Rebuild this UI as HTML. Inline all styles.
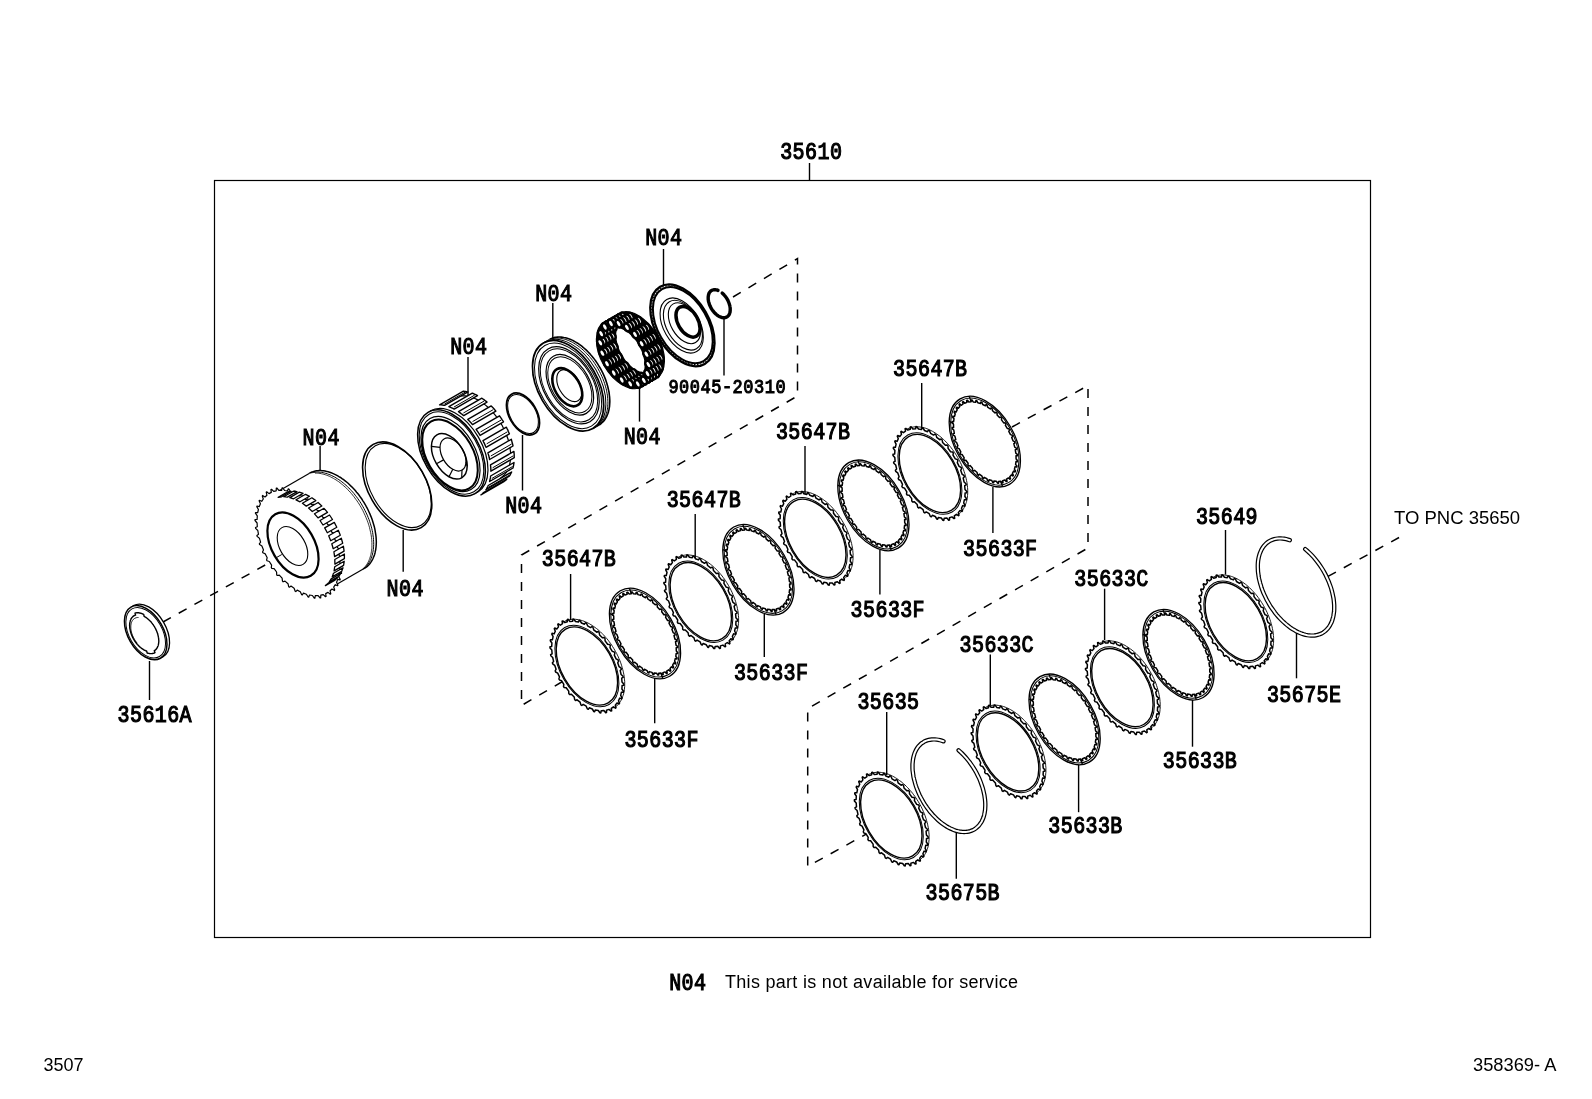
<!DOCTYPE html>
<html><head><meta charset="utf-8"><style>html,body{margin:0;padding:0;background:#fff;overflow:hidden}svg{display:block;filter:grayscale(1)}</style></head>
<body><svg width="1592" height="1099" viewBox="0 0 1592 1099">
<rect width="1592" height="1099" fill="#fff"/>
<rect x="214.5" y="180.5" width="1156" height="757" fill="none" stroke="#000" stroke-width="1.2"/>
<line x1="809.5" y1="163" x2="809.5" y2="180.5" stroke="#000" stroke-width="1.4" />
<g transform="translate(781.0,159.3) scale(1,1.2)"><text x="5.2 17.6 30.1 42.5 54.9" y="0" text-anchor="middle" font-family="Liberation Mono" font-weight="normal" font-size="20" fill="#000" stroke="#000" stroke-width="1.0" >35610</text></g>
<g transform="translate(646.0,245.3) scale(1,1.2)"><text x="5.2 17.6 30.1" y="0" text-anchor="middle" font-family="Liberation Mono" font-weight="normal" font-size="20" fill="#000" stroke="#000" stroke-width="1.0" >N04</text></g>
<line x1="663.5" y1="249" x2="663.5" y2="286" stroke="#000" stroke-width="1.4" />
<g transform="translate(536.0,300.9) scale(1,1.2)"><text x="5.2 17.6 30.1" y="0" text-anchor="middle" font-family="Liberation Mono" font-weight="normal" font-size="20" fill="#000" stroke="#000" stroke-width="1.0" >N04</text></g>
<line x1="552.8" y1="303" x2="552.8" y2="340" stroke="#000" stroke-width="1.4" />
<g transform="translate(451.0,353.7) scale(1,1.2)"><text x="5.2 17.6 30.1" y="0" text-anchor="middle" font-family="Liberation Mono" font-weight="normal" font-size="20" fill="#000" stroke="#000" stroke-width="1.0" >N04</text></g>
<line x1="468" y1="357" x2="468" y2="395" stroke="#000" stroke-width="1.4" />
<g transform="translate(303.4,444.5) scale(1,1.2)"><text x="5.2 17.6 30.1" y="0" text-anchor="middle" font-family="Liberation Mono" font-weight="normal" font-size="20" fill="#000" stroke="#000" stroke-width="1.0" >N04</text></g>
<line x1="320.1" y1="446" x2="320.1" y2="470" stroke="#000" stroke-width="1.4" />
<g transform="translate(624.5,444.1) scale(1,1.2)"><text x="5.2 17.6 30.1" y="0" text-anchor="middle" font-family="Liberation Mono" font-weight="normal" font-size="20" fill="#000" stroke="#000" stroke-width="1.0" >N04</text></g>
<line x1="639.5" y1="388" x2="639.5" y2="421.6" stroke="#000" stroke-width="1.4" />
<g transform="translate(506.0,513.3) scale(1,1.2)"><text x="5.2 17.6 30.1" y="0" text-anchor="middle" font-family="Liberation Mono" font-weight="normal" font-size="20" fill="#000" stroke="#000" stroke-width="1.0" >N04</text></g>
<line x1="522.5" y1="435" x2="522.5" y2="490.5" stroke="#000" stroke-width="1.4" />
<g transform="translate(387.3,595.9) scale(1,1.2)"><text x="5.2 17.6 30.1" y="0" text-anchor="middle" font-family="Liberation Mono" font-weight="normal" font-size="20" fill="#000" stroke="#000" stroke-width="1.0" >N04</text></g>
<line x1="403.2" y1="530" x2="403.2" y2="571.8" stroke="#000" stroke-width="1.4" />
<g transform="translate(118.3,721.6) scale(1,1.2)"><text x="5.2 17.6 30.1 42.5 54.9 67.2" y="0" text-anchor="middle" font-family="Liberation Mono" font-weight="normal" font-size="20" fill="#000" stroke="#000" stroke-width="1.0" >35616A</text></g>
<line x1="149.5" y1="661" x2="149.5" y2="700" stroke="#000" stroke-width="1.4" />
<g transform="translate(669.0,392.7) scale(1,1.15)"><text x="4.5 15.2 25.9 36.6 47.3 58.0 68.7 79.4 90.1 100.8 111.5" y="0" text-anchor="middle" font-family="Liberation Mono" font-weight="normal" font-size="17" fill="#000" stroke="#000" stroke-width="0.9" >90045-20310</text></g>
<line x1="724" y1="318.5" x2="724" y2="375.6" stroke="#000" stroke-width="1.4" />
<g transform="translate(893.9,376.1) scale(1,1.2)"><text x="5.2 17.6 30.1 42.5 54.9 67.2" y="0" text-anchor="middle" font-family="Liberation Mono" font-weight="normal" font-size="20" fill="#000" stroke="#000" stroke-width="1.0" >35647B</text></g>
<line x1="921.7" y1="383" x2="921.7" y2="430" stroke="#000" stroke-width="1.4" />
<g transform="translate(776.7,438.8) scale(1,1.2)"><text x="5.2 17.6 30.1 42.5 54.9 67.2" y="0" text-anchor="middle" font-family="Liberation Mono" font-weight="normal" font-size="20" fill="#000" stroke="#000" stroke-width="1.0" >35647B</text></g>
<line x1="805" y1="446" x2="805" y2="494" stroke="#000" stroke-width="1.4" />
<g transform="translate(667.5,507.0) scale(1,1.2)"><text x="5.2 17.6 30.1 42.5 54.9 67.2" y="0" text-anchor="middle" font-family="Liberation Mono" font-weight="normal" font-size="20" fill="#000" stroke="#000" stroke-width="1.0" >35647B</text></g>
<line x1="695.2" y1="514" x2="695.2" y2="558" stroke="#000" stroke-width="1.4" />
<g transform="translate(542.6,566.3) scale(1,1.2)"><text x="5.2 17.6 30.1 42.5 54.9 67.2" y="0" text-anchor="middle" font-family="Liberation Mono" font-weight="normal" font-size="20" fill="#000" stroke="#000" stroke-width="1.0" >35647B</text></g>
<line x1="570.6" y1="574" x2="570.6" y2="620" stroke="#000" stroke-width="1.4" />
<g transform="translate(963.9,555.5) scale(1,1.2)"><text x="5.2 17.6 30.1 42.5 54.9 67.2" y="0" text-anchor="middle" font-family="Liberation Mono" font-weight="normal" font-size="20" fill="#000" stroke="#000" stroke-width="1.0" >35633F</text></g>
<line x1="992.9" y1="487" x2="992.9" y2="533" stroke="#000" stroke-width="1.4" />
<g transform="translate(851.4,616.9) scale(1,1.2)"><text x="5.2 17.6 30.1 42.5 54.9 67.2" y="0" text-anchor="middle" font-family="Liberation Mono" font-weight="normal" font-size="20" fill="#000" stroke="#000" stroke-width="1.0" >35633F</text></g>
<line x1="879.9" y1="550" x2="879.9" y2="594.5" stroke="#000" stroke-width="1.4" />
<g transform="translate(734.7,679.7) scale(1,1.2)"><text x="5.2 17.6 30.1 42.5 54.9 67.2" y="0" text-anchor="middle" font-family="Liberation Mono" font-weight="normal" font-size="20" fill="#000" stroke="#000" stroke-width="1.0" >35633F</text></g>
<line x1="764.3" y1="614" x2="764.3" y2="657" stroke="#000" stroke-width="1.4" />
<g transform="translate(625.2,747.3) scale(1,1.2)"><text x="5.2 17.6 30.1 42.5 54.9 67.2" y="0" text-anchor="middle" font-family="Liberation Mono" font-weight="normal" font-size="20" fill="#000" stroke="#000" stroke-width="1.0" >35633F</text></g>
<line x1="654.7" y1="678" x2="654.7" y2="723.3" stroke="#000" stroke-width="1.4" />
<g transform="translate(1075.1,585.6) scale(1,1.2)"><text x="5.2 17.6 30.1 42.5 54.9 67.2" y="0" text-anchor="middle" font-family="Liberation Mono" font-weight="normal" font-size="20" fill="#000" stroke="#000" stroke-width="1.0" >35633C</text></g>
<line x1="1104.6" y1="588.7" x2="1104.6" y2="640" stroke="#000" stroke-width="1.4" />
<g transform="translate(960.3,652.1) scale(1,1.2)"><text x="5.2 17.6 30.1 42.5 54.9 67.2" y="0" text-anchor="middle" font-family="Liberation Mono" font-weight="normal" font-size="20" fill="#000" stroke="#000" stroke-width="1.0" >35633C</text></g>
<line x1="990.3" y1="654.4" x2="990.3" y2="705.5" stroke="#000" stroke-width="1.4" />
<g transform="translate(858.2,708.8) scale(1,1.2)"><text x="5.2 17.6 30.1 42.5 54.9" y="0" text-anchor="middle" font-family="Liberation Mono" font-weight="normal" font-size="20" fill="#000" stroke="#000" stroke-width="1.0" >35635</text></g>
<line x1="886.7" y1="712" x2="886.7" y2="775" stroke="#000" stroke-width="1.4" />
<g transform="translate(1196.7,523.6) scale(1,1.2)"><text x="5.2 17.6 30.1 42.5 54.9" y="0" text-anchor="middle" font-family="Liberation Mono" font-weight="normal" font-size="20" fill="#000" stroke="#000" stroke-width="1.0" >35649</text></g>
<line x1="1225.5" y1="530" x2="1225.5" y2="574.6" stroke="#000" stroke-width="1.4" />
<g transform="translate(1267.7,701.9) scale(1,1.2)"><text x="5.2 17.6 30.1 42.5 54.9 67.2" y="0" text-anchor="middle" font-family="Liberation Mono" font-weight="normal" font-size="20" fill="#000" stroke="#000" stroke-width="1.0" >35675E</text></g>
<line x1="1296.5" y1="632.8" x2="1296.5" y2="678.3" stroke="#000" stroke-width="1.4" />
<g transform="translate(1163.6,768.3) scale(1,1.2)"><text x="5.2 17.6 30.1 42.5 54.9 67.2" y="0" text-anchor="middle" font-family="Liberation Mono" font-weight="normal" font-size="20" fill="#000" stroke="#000" stroke-width="1.0" >35633B</text></g>
<line x1="1192.5" y1="700" x2="1192.5" y2="746.7" stroke="#000" stroke-width="1.4" />
<g transform="translate(1049.1,833.2) scale(1,1.2)"><text x="5.2 17.6 30.1 42.5 54.9 67.2" y="0" text-anchor="middle" font-family="Liberation Mono" font-weight="normal" font-size="20" fill="#000" stroke="#000" stroke-width="1.0" >35633B</text></g>
<line x1="1078.6" y1="765" x2="1078.6" y2="812.2" stroke="#000" stroke-width="1.4" />
<g transform="translate(926.3,899.7) scale(1,1.2)"><text x="5.2 17.6 30.1 42.5 54.9 67.2" y="0" text-anchor="middle" font-family="Liberation Mono" font-weight="normal" font-size="20" fill="#000" stroke="#000" stroke-width="1.0" >35675B</text></g>
<line x1="956.3" y1="832.4" x2="956.3" y2="878.8" stroke="#000" stroke-width="1.4" />
<text x="1394" y="523.6" font-family="Liberation Sans" font-size="18.5" fill="#000" >TO PNC 35650</text>
<g transform="translate(670.0,990.1) scale(1,1.2)"><text x="5.2 17.6 30.1" y="0" text-anchor="middle" font-family="Liberation Mono" font-weight="normal" font-size="20" fill="#000" stroke="#000" stroke-width="1.0" >N04</text></g>
<text x="725" y="988.1" font-family="Liberation Sans" font-size="18" fill="#000" textLength="293" lengthAdjust="spacing">This part is not available for service</text>
<text x="43.5" y="1070.8" font-family="Liberation Sans" font-size="18" fill="#000" >3507</text>
<text x="1473" y="1071" font-family="Liberation Sans" font-size="18.3" fill="#000" >358369- A</text>
<path d="M163,622 L267,564" fill="none" stroke="#000" stroke-width="1.5" stroke-dasharray="9,9" />
<path d="M733,297 L797.5,258.6 L797.5,396 L521.5,555 L521.5,705.5 L589,666" fill="none" stroke="#000" stroke-width="1.5" stroke-dasharray="9,9" />
<path d="M1012,427 L1088,385.6 L1088,548 L807.7,708.6 L807.7,866.4 L881,826" fill="none" stroke="#000" stroke-width="1.5" stroke-dasharray="9,9" />
<path d="M1328,576.4 L1400,537" fill="none" stroke="#000" stroke-width="1.5" stroke-dasharray="9,9" />
<path d="M563.9,621.8 L564.9,621.2 L566.0,620.7 L567.1,620.3 L568.3,620.0 L569.4,619.7 L570.6,619.5 L571.9,619.3 L573.1,619.3 L574.4,619.3 L575.7,619.3 L577.0,619.5 L578.4,619.7 L579.7,620.0 L581.1,620.3 L582.5,620.7 L583.9,621.2 L585.3,621.8 L586.7,622.4 L588.1,623.1 L589.5,623.8 L590.9,624.7 L592.3,625.5 L593.7,626.5 L595.1,627.5 L596.5,628.5 L597.9,629.6 L599.2,630.8 L600.6,632.0 L601.9,633.3 L603.2,634.6 L604.5,636.0 L605.7,637.4 L607.0,638.8 L608.2,640.3 L609.3,641.8 L610.5,643.4 L611.6,645.0 L612.6,646.6 L613.7,648.3 L614.7,650.0 L615.6,651.7 L616.6,653.4 L617.4,655.1 L618.3,656.9 L619.0,658.7 L619.8,660.4 L620.5,662.2 L621.1,664.0 L621.7,665.8 L622.2,667.6 L622.7,669.4 L623.2,671.2 L623.5,672.9 L623.9,674.7 L624.2,676.4 L624.4,678.2 L624.5,679.9 L624.7,681.5 L624.7,683.2 L624.7,684.8 L624.7,686.4 L624.5,688.0 L624.4,689.5 L624.2,691.0 L623.9,692.5 L623.6,693.9 L623.2,695.2 L622.7,696.5 L622.3,697.8 L621.7,699.0 L621.1,700.2 L620.5,701.3 L619.8,702.4 L619.1,703.3 L618.3,704.3 L617.4,705.2 L616.6,706.0 L615.7,706.7 L614.7,707.4 L613.7,708.0" fill="none" stroke="#000" stroke-width="0.9" />
<path d="M611.3,708.3 L611.3,708.3 L611.7,710.8 L611.0,711.1 L609.0,709.4 L606.5,710.2 L606.5,710.2 L606.5,712.5 L605.7,712.7 L603.9,710.6 L601.2,710.7 L601.2,710.7 L600.8,712.9 L599.9,712.8 L598.3,710.5 L595.4,709.9 L595.4,709.9 L594.6,711.8 L593.8,711.5 L592.3,709.0 L589.3,707.8 L589.3,707.8 L588.3,709.3 L587.3,708.8 L586.2,706.2 L583.2,704.4 L583.2,704.4 L581.8,705.5 L580.9,704.9 L580.1,702.2 L577.1,699.8 L577.1,699.8 L575.6,700.5 L574.7,699.7 L574.2,697.1 L571.4,694.2 L571.4,694.2 L569.6,694.4 L568.8,693.5 L568.7,691.1 L566.2,687.8 L566.2,687.8 L564.2,687.5 L563.5,686.5 L563.8,684.3 L561.5,680.6 L561.5,680.6 L559.5,680.0 L558.9,678.9 L559.5,676.9 L557.7,673.1 L557.7,673.1 L555.6,672.0 L555.2,670.8 L556.1,669.2 L554.7,665.3 L554.7,665.3 L552.7,663.8 L552.4,662.7 L553.6,661.4 L552.7,657.5 L552.7,657.5 L550.8,655.7 L550.6,654.6 L552.1,653.8 L551.8,650.0 L551.8,650.0 L550.0,647.9 L550.0,646.8 L551.7,646.5 L551.9,643.0 L551.9,643.0 L550.3,640.7 L550.5,639.7 L552.4,639.8 L553.1,636.7 L553.1,636.7 L551.8,634.2 L552.1,633.3 L554.1,633.9 L555.3,631.3 L555.3,631.3 L554.3,628.7 L554.7,628.0 L556.8,629.0 L558.5,626.9 L558.5,626.9 L557.8,624.3 L558.3,623.8 L560.4,625.2 L562.5,623.7 L562.5,623.7 L562.1,621.2 L562.8,620.9 L564.8,622.6 L567.3,621.8 L567.3,621.8 L567.3,619.5 L568.1,619.3 L569.9,621.4 L572.6,621.3 L572.6,621.3 L573.0,619.1 L573.9,619.2 L575.5,621.5 L578.4,622.1 L578.4,622.1 L579.2,620.2 L580.0,620.5 L581.5,623.0 L584.5,624.2 L584.5,624.2 L585.5,622.7 L586.5,623.2 L587.6,625.8 L590.6,627.6 L590.6,627.6 L592.0,626.5 L592.9,627.1 L593.7,629.8 L596.7,632.2 L596.7,632.2 L598.2,631.5 L599.1,632.3 L599.6,634.9 L602.4,637.8 L602.4,637.8 L604.2,637.6 L605.0,638.5 L605.1,640.9 L607.6,644.2 L607.6,644.2 L609.6,644.5 L610.3,645.5 L610.0,647.7 L612.3,651.4 L612.3,651.4 L614.3,652.0 L614.9,653.1 L614.3,655.1 L616.1,658.9 L616.1,658.9 L618.2,660.0 L618.6,661.2 L617.7,662.8 L619.1,666.7 L619.1,666.7 L621.1,668.2 L621.4,669.3 L620.2,670.6 L621.1,674.5 L621.1,674.5 L623.0,676.3 L623.2,677.4 L621.7,678.2 L622.0,682.0 L622.0,682.0 L623.8,684.1 L623.8,685.2 L622.1,685.5 L621.9,689.0 L621.9,689.0 L623.5,691.3 L623.3,692.3 L621.4,692.2 L620.7,695.3 L620.7,695.3 L622.0,697.8 L621.7,698.7 L619.7,698.1 L618.5,700.7 L618.5,700.7 L619.5,703.3 L619.1,704.0 L617.0,703.0 L615.3,705.1 L615.3,705.1 L616.0,707.7 L615.5,708.2 L613.4,706.8 L611.3,708.3 L611.3,708.3 Z" fill="#fff" stroke="#000" stroke-width="1.5" stroke-linejoin="round" />
<ellipse cx="586.90" cy="666.00" rx="44.40" ry="26.64" transform="rotate(60.0 586.90 666.00)" fill="none" stroke="#000" stroke-width="1.0" />
<ellipse cx="586.90" cy="666.00" rx="42.60" ry="25.56" transform="rotate(60.0 586.90 666.00)" fill="none" stroke="#000" stroke-width="1.4" />
<ellipse cx="645.00" cy="633.50" rx="49.40" ry="29.64" transform="rotate(60.0 645.00 633.50)" fill="none" stroke="#000" stroke-width="1.3" />
<ellipse cx="645.00" cy="633.50" rx="47.40" ry="28.44" transform="rotate(60.0 645.00 633.50)" fill="none" stroke="#000" stroke-width="1.0" />
<path d="M666.7,671.1 L666.7,671.1 L667.3,673.1 L666.4,673.5 L665.1,671.9 L662.9,672.7 L662.9,672.7 L663.2,674.6 L662.3,674.8 L661.0,673.1 L658.7,673.3 L658.7,673.3 L658.7,675.1 L657.8,675.1 L656.6,673.2 L654.1,672.9 L654.1,672.9 L653.9,674.6 L652.9,674.4 L652.0,672.4 L649.3,671.6 L649.3,671.6 L648.9,673.1 L647.8,672.6 L647.1,670.6 L644.4,669.3 L644.4,669.3 L643.8,670.6 L642.7,669.9 L642.2,668.0 L639.5,666.1 L639.5,666.1 L638.7,667.2 L637.6,666.3 L637.3,664.4 L634.8,662.2 L634.8,662.2 L633.7,662.9 L632.7,662.0 L632.7,660.1 L630.3,657.5 L630.3,657.5 L629.0,658.0 L628.1,656.9 L628.3,655.2 L626.1,652.2 L626.1,652.2 L624.8,652.4 L623.9,651.2 L624.4,649.7 L622.4,646.5 L622.4,646.5 L621.0,646.4 L620.3,645.1 L621.0,643.8 L619.3,640.5 L619.3,640.5 L617.8,640.0 L617.2,638.7 L618.1,637.7 L616.8,634.3 L616.8,634.3 L615.3,633.5 L614.8,632.1 L616.0,631.5 L615.1,628.0 L615.1,628.0 L613.5,627.0 L613.2,625.7 L614.5,625.3 L614.0,621.9 L614.0,621.9 L612.5,620.7 L612.4,619.4 L613.8,619.3 L613.7,616.1 L613.7,616.1 L612.3,614.6 L612.3,613.4 L613.8,613.6 L614.2,610.7 L614.2,610.7 L612.9,609.1 L613.1,608.0 L614.7,608.5 L615.4,605.9 L615.4,605.9 L614.3,604.1 L614.7,603.1 L616.2,604.0 L617.4,601.8 L617.4,601.8 L616.4,599.8 L617.0,599.1 L618.5,600.2 L620.0,598.4 L620.0,598.4 L619.3,596.4 L619.9,595.8 L621.4,597.2 L623.3,595.9 L623.3,595.9 L622.7,593.9 L623.6,593.5 L624.9,595.1 L627.1,594.3 L627.1,594.3 L626.8,592.4 L627.7,592.2 L629.0,593.9 L631.3,593.7 L631.3,593.7 L631.3,591.9 L632.2,591.9 L633.4,593.8 L635.9,594.1 L635.9,594.1 L636.1,592.4 L637.1,592.6 L638.0,594.6 L640.7,595.4 L640.7,595.4 L641.1,593.9 L642.2,594.4 L642.9,596.4 L645.6,597.7 L645.6,597.7 L646.2,596.4 L647.3,597.1 L647.8,599.0 L650.5,600.9 L650.5,600.9 L651.3,599.8 L652.4,600.7 L652.7,602.6 L655.2,604.8 L655.2,604.8 L656.3,604.1 L657.3,605.0 L657.3,606.9 L659.7,609.5 L659.7,609.5 L661.0,609.0 L661.9,610.1 L661.7,611.8 L663.9,614.8 L663.9,614.8 L665.2,614.6 L666.1,615.8 L665.6,617.3 L667.6,620.5 L667.6,620.5 L669.0,620.6 L669.7,621.9 L669.0,623.2 L670.7,626.5 L670.7,626.5 L672.2,627.0 L672.8,628.3 L671.9,629.3 L673.2,632.7 L673.2,632.7 L674.7,633.5 L675.2,634.9 L674.0,635.5 L674.9,639.0 L674.9,639.0 L676.5,640.0 L676.8,641.3 L675.5,641.7 L676.0,645.1 L676.0,645.1 L677.5,646.3 L677.6,647.6 L676.2,647.7 L676.3,650.9 L676.3,650.9 L677.7,652.4 L677.7,653.6 L676.2,653.4 L675.8,656.3 L675.8,656.3 L677.1,657.9 L676.9,659.0 L675.3,658.5 L674.6,661.1 L674.6,661.1 L675.7,662.9 L675.3,663.9 L673.8,663.0 L672.6,665.2 L672.6,665.2 L673.6,667.2 L673.0,667.9 L671.5,666.8 L670.0,668.6 L670.0,668.6 L670.7,670.6 L670.1,671.2 L668.6,669.8 L666.7,671.1 L666.7,671.1 Z" fill="none" stroke="#000" stroke-width="1.5" stroke-linejoin="round" />
<line x1="631.3" y1="593.7" x2="629.4" y2="588.2" stroke="#000" stroke-width="1.3" />
<line x1="613.7" y1="615.6" x2="609.4" y2="613.2" stroke="#000" stroke-width="1.3" />
<line x1="660.7" y1="673.1" x2="662.9" y2="678.6" stroke="#000" stroke-width="1.3" />
<path d="M677.8,557.5 L678.8,556.9 L679.9,556.4 L681.0,556.0 L682.2,555.7 L683.3,555.4 L684.5,555.2 L685.8,555.0 L687.0,555.0 L688.3,555.0 L689.6,555.0 L690.9,555.2 L692.3,555.4 L693.6,555.7 L695.0,556.0 L696.4,556.4 L697.8,556.9 L699.2,557.5 L700.6,558.1 L702.0,558.8 L703.4,559.5 L704.8,560.4 L706.2,561.2 L707.6,562.2 L709.0,563.2 L710.4,564.2 L711.8,565.3 L713.1,566.5 L714.5,567.7 L715.8,569.0 L717.1,570.3 L718.4,571.7 L719.6,573.1 L720.9,574.5 L722.1,576.0 L723.2,577.5 L724.4,579.1 L725.5,580.7 L726.5,582.3 L727.6,584.0 L728.6,585.7 L729.5,587.4 L730.5,589.1 L731.3,590.8 L732.2,592.6 L732.9,594.4 L733.7,596.1 L734.4,597.9 L735.0,599.7 L735.6,601.5 L736.1,603.3 L736.6,605.1 L737.1,606.9 L737.4,608.6 L737.8,610.4 L738.1,612.1 L738.3,613.9 L738.4,615.6 L738.6,617.2 L738.6,618.9 L738.6,620.5 L738.6,622.1 L738.4,623.7 L738.3,625.2 L738.1,626.7 L737.8,628.2 L737.5,629.6 L737.1,630.9 L736.6,632.2 L736.2,633.5 L735.6,634.7 L735.0,635.9 L734.4,637.0 L733.7,638.1 L733.0,639.0 L732.2,640.0 L731.3,640.9 L730.5,641.7 L729.6,642.4 L728.6,643.1 L727.6,643.7" fill="none" stroke="#000" stroke-width="0.9" />
<path d="M725.2,644.0 L725.2,644.0 L725.6,646.5 L724.9,646.8 L722.9,645.1 L720.4,645.9 L720.4,645.9 L720.4,648.2 L719.6,648.4 L717.8,646.3 L715.1,646.4 L715.1,646.4 L714.7,648.6 L713.8,648.5 L712.2,646.2 L709.3,645.6 L709.3,645.6 L708.5,647.5 L707.7,647.2 L706.2,644.7 L703.2,643.5 L703.2,643.5 L702.2,645.0 L701.2,644.5 L700.1,641.9 L697.1,640.1 L697.1,640.1 L695.7,641.2 L694.8,640.6 L694.0,637.9 L691.0,635.5 L691.0,635.5 L689.5,636.2 L688.6,635.4 L688.1,632.8 L685.3,629.9 L685.3,629.9 L683.5,630.1 L682.7,629.2 L682.6,626.8 L680.1,623.5 L680.1,623.5 L678.1,623.2 L677.4,622.2 L677.7,620.0 L675.4,616.3 L675.4,616.3 L673.4,615.7 L672.8,614.6 L673.4,612.6 L671.6,608.8 L671.6,608.8 L669.5,607.7 L669.1,606.5 L670.0,604.9 L668.6,601.0 L668.6,601.0 L666.6,599.5 L666.3,598.4 L667.5,597.1 L666.6,593.2 L666.6,593.2 L664.7,591.4 L664.5,590.3 L666.0,589.5 L665.7,585.7 L665.7,585.7 L663.9,583.6 L663.9,582.5 L665.6,582.2 L665.8,578.7 L665.8,578.7 L664.2,576.4 L664.4,575.4 L666.3,575.5 L667.0,572.4 L667.0,572.4 L665.7,569.9 L666.0,569.0 L668.0,569.6 L669.2,567.0 L669.2,567.0 L668.2,564.4 L668.6,563.7 L670.7,564.7 L672.4,562.6 L672.4,562.6 L671.7,560.0 L672.2,559.5 L674.3,560.9 L676.4,559.4 L676.4,559.4 L676.0,556.9 L676.7,556.6 L678.7,558.3 L681.2,557.5 L681.2,557.5 L681.2,555.2 L682.0,555.0 L683.8,557.1 L686.5,557.0 L686.5,557.0 L686.9,554.8 L687.8,554.9 L689.4,557.2 L692.3,557.8 L692.3,557.8 L693.1,555.9 L693.9,556.2 L695.4,558.7 L698.4,559.9 L698.4,559.9 L699.4,558.4 L700.4,558.9 L701.5,561.5 L704.5,563.3 L704.5,563.3 L705.9,562.2 L706.8,562.8 L707.6,565.5 L710.6,567.9 L710.6,567.9 L712.1,567.2 L713.0,568.0 L713.5,570.6 L716.3,573.5 L716.3,573.5 L718.1,573.3 L718.9,574.2 L719.0,576.6 L721.5,579.9 L721.5,579.9 L723.5,580.2 L724.2,581.2 L723.9,583.4 L726.2,587.1 L726.2,587.1 L728.2,587.7 L728.8,588.8 L728.2,590.8 L730.0,594.6 L730.0,594.6 L732.1,595.7 L732.5,596.9 L731.6,598.5 L733.0,602.4 L733.0,602.4 L735.0,603.9 L735.3,605.0 L734.1,606.3 L735.0,610.2 L735.0,610.2 L736.9,612.0 L737.1,613.1 L735.6,613.9 L735.9,617.7 L735.9,617.7 L737.7,619.8 L737.7,620.9 L736.0,621.2 L735.8,624.7 L735.8,624.7 L737.4,627.0 L737.2,628.0 L735.3,627.9 L734.6,631.0 L734.6,631.0 L735.9,633.5 L735.6,634.4 L733.6,633.8 L732.4,636.4 L732.4,636.4 L733.4,639.0 L733.0,639.7 L730.9,638.7 L729.2,640.8 L729.2,640.8 L729.9,643.4 L729.4,643.9 L727.3,642.5 L725.2,644.0 L725.2,644.0 Z" fill="#fff" stroke="#000" stroke-width="1.5" stroke-linejoin="round" />
<ellipse cx="700.80" cy="601.70" rx="44.40" ry="26.64" transform="rotate(60.0 700.80 601.70)" fill="none" stroke="#000" stroke-width="1.0" />
<ellipse cx="700.80" cy="601.70" rx="42.60" ry="25.56" transform="rotate(60.0 700.80 601.70)" fill="none" stroke="#000" stroke-width="1.4" />
<ellipse cx="758.40" cy="569.80" rx="49.40" ry="29.64" transform="rotate(60.0 758.40 569.80)" fill="none" stroke="#000" stroke-width="1.3" />
<ellipse cx="758.40" cy="569.80" rx="47.40" ry="28.44" transform="rotate(60.0 758.40 569.80)" fill="none" stroke="#000" stroke-width="1.0" />
<path d="M780.1,607.4 L780.1,607.4 L780.7,609.4 L779.8,609.8 L778.5,608.2 L776.3,609.0 L776.3,609.0 L776.6,610.9 L775.7,611.1 L774.4,609.4 L772.1,609.6 L772.1,609.6 L772.1,611.4 L771.2,611.4 L770.0,609.5 L767.5,609.2 L767.5,609.2 L767.3,610.9 L766.3,610.7 L765.4,608.7 L762.7,607.9 L762.7,607.9 L762.3,609.4 L761.2,608.9 L760.5,606.9 L757.8,605.6 L757.8,605.6 L757.2,606.9 L756.1,606.2 L755.6,604.3 L752.9,602.4 L752.9,602.4 L752.1,603.5 L751.0,602.6 L750.7,600.7 L748.2,598.5 L748.2,598.5 L747.1,599.2 L746.1,598.3 L746.1,596.4 L743.7,593.8 L743.7,593.8 L742.4,594.3 L741.5,593.2 L741.7,591.5 L739.5,588.5 L739.5,588.5 L738.2,588.7 L737.3,587.5 L737.8,586.0 L735.8,582.8 L735.8,582.8 L734.4,582.7 L733.7,581.4 L734.4,580.1 L732.7,576.8 L732.7,576.8 L731.2,576.3 L730.6,575.0 L731.5,574.0 L730.2,570.6 L730.2,570.6 L728.7,569.8 L728.2,568.4 L729.4,567.8 L728.5,564.3 L728.5,564.3 L726.9,563.3 L726.6,562.0 L727.9,561.6 L727.4,558.2 L727.4,558.2 L725.9,557.0 L725.8,555.7 L727.2,555.6 L727.1,552.4 L727.1,552.4 L725.7,550.9 L725.7,549.7 L727.2,549.9 L727.6,547.0 L727.6,547.0 L726.3,545.4 L726.5,544.3 L728.1,544.8 L728.8,542.2 L728.8,542.2 L727.7,540.4 L728.1,539.4 L729.6,540.3 L730.8,538.1 L730.8,538.1 L729.8,536.1 L730.4,535.4 L731.9,536.5 L733.4,534.7 L733.4,534.7 L732.7,532.7 L733.3,532.1 L734.8,533.5 L736.7,532.2 L736.7,532.2 L736.1,530.2 L737.0,529.8 L738.3,531.4 L740.5,530.6 L740.5,530.6 L740.2,528.7 L741.1,528.5 L742.4,530.2 L744.7,530.0 L744.7,530.0 L744.7,528.2 L745.6,528.2 L746.8,530.1 L749.3,530.4 L749.3,530.4 L749.5,528.7 L750.5,528.9 L751.4,530.9 L754.1,531.7 L754.1,531.7 L754.5,530.2 L755.6,530.7 L756.3,532.7 L759.0,534.0 L759.0,534.0 L759.6,532.7 L760.7,533.4 L761.2,535.3 L763.9,537.2 L763.9,537.2 L764.7,536.1 L765.8,537.0 L766.1,538.9 L768.6,541.1 L768.6,541.1 L769.7,540.4 L770.7,541.3 L770.7,543.2 L773.1,545.8 L773.1,545.8 L774.4,545.3 L775.3,546.4 L775.1,548.1 L777.3,551.1 L777.3,551.1 L778.6,550.9 L779.5,552.1 L779.0,553.6 L781.0,556.8 L781.0,556.8 L782.4,556.9 L783.1,558.2 L782.4,559.5 L784.1,562.8 L784.1,562.8 L785.6,563.3 L786.2,564.6 L785.3,565.6 L786.6,569.0 L786.6,569.0 L788.1,569.8 L788.6,571.2 L787.4,571.8 L788.3,575.3 L788.3,575.3 L789.9,576.3 L790.2,577.6 L788.9,578.0 L789.4,581.4 L789.4,581.4 L790.9,582.6 L791.0,583.9 L789.6,584.0 L789.7,587.2 L789.7,587.2 L791.1,588.7 L791.1,589.9 L789.6,589.7 L789.2,592.6 L789.2,592.6 L790.5,594.2 L790.3,595.3 L788.7,594.8 L788.0,597.4 L788.0,597.4 L789.1,599.2 L788.7,600.2 L787.2,599.3 L786.0,601.5 L786.0,601.5 L787.0,603.5 L786.4,604.2 L784.9,603.1 L783.4,604.9 L783.4,604.9 L784.1,606.9 L783.5,607.5 L782.0,606.1 L780.1,607.4 L780.1,607.4 Z" fill="none" stroke="#000" stroke-width="1.5" stroke-linejoin="round" />
<line x1="744.7" y1="530.0" x2="742.8" y2="524.5" stroke="#000" stroke-width="1.3" />
<line x1="727.1" y1="551.9" x2="722.8" y2="549.5" stroke="#000" stroke-width="1.3" />
<line x1="774.1" y1="609.4" x2="776.3" y2="614.9" stroke="#000" stroke-width="1.3" />
<path d="M792.3,494.1 L793.3,493.5 L794.4,493.0 L795.5,492.6 L796.7,492.3 L797.8,492.0 L799.0,491.8 L800.3,491.6 L801.5,491.6 L802.8,491.6 L804.1,491.6 L805.4,491.8 L806.8,492.0 L808.1,492.3 L809.5,492.6 L810.9,493.0 L812.3,493.5 L813.7,494.1 L815.1,494.7 L816.5,495.4 L817.9,496.1 L819.3,497.0 L820.7,497.8 L822.1,498.8 L823.5,499.8 L824.9,500.8 L826.3,501.9 L827.6,503.1 L829.0,504.3 L830.3,505.6 L831.6,506.9 L832.9,508.3 L834.1,509.7 L835.4,511.1 L836.6,512.6 L837.7,514.1 L838.9,515.7 L840.0,517.3 L841.0,518.9 L842.1,520.6 L843.1,522.3 L844.0,524.0 L845.0,525.7 L845.8,527.4 L846.7,529.2 L847.4,531.0 L848.2,532.7 L848.9,534.5 L849.5,536.3 L850.1,538.1 L850.6,539.9 L851.1,541.7 L851.6,543.5 L851.9,545.2 L852.3,547.0 L852.6,548.7 L852.8,550.5 L852.9,552.2 L853.1,553.8 L853.1,555.5 L853.1,557.1 L853.1,558.7 L852.9,560.3 L852.8,561.8 L852.6,563.3 L852.3,564.8 L852.0,566.2 L851.6,567.5 L851.1,568.8 L850.7,570.1 L850.1,571.3 L849.5,572.5 L848.9,573.6 L848.2,574.7 L847.5,575.6 L846.7,576.6 L845.8,577.5 L845.0,578.3 L844.1,579.0 L843.1,579.7 L842.1,580.3" fill="none" stroke="#000" stroke-width="0.9" />
<path d="M839.7,580.6 L839.7,580.6 L840.1,583.1 L839.4,583.4 L837.4,581.7 L834.9,582.5 L834.9,582.5 L834.9,584.8 L834.1,585.0 L832.3,582.9 L829.6,583.0 L829.6,583.0 L829.2,585.2 L828.3,585.1 L826.7,582.8 L823.8,582.2 L823.8,582.2 L823.0,584.1 L822.2,583.8 L820.7,581.3 L817.7,580.1 L817.7,580.1 L816.7,581.6 L815.7,581.1 L814.6,578.5 L811.6,576.7 L811.6,576.7 L810.2,577.8 L809.3,577.2 L808.5,574.5 L805.5,572.1 L805.5,572.1 L804.0,572.8 L803.1,572.0 L802.6,569.4 L799.8,566.5 L799.8,566.5 L798.0,566.7 L797.2,565.8 L797.1,563.4 L794.6,560.1 L794.6,560.1 L792.6,559.8 L791.9,558.8 L792.2,556.6 L789.9,552.9 L789.9,552.9 L787.9,552.3 L787.3,551.2 L787.9,549.2 L786.1,545.4 L786.1,545.4 L784.0,544.3 L783.6,543.1 L784.5,541.5 L783.1,537.6 L783.1,537.6 L781.1,536.1 L780.8,535.0 L782.0,533.7 L781.1,529.8 L781.1,529.8 L779.2,528.0 L779.0,526.9 L780.5,526.1 L780.2,522.3 L780.2,522.3 L778.4,520.2 L778.4,519.1 L780.1,518.8 L780.3,515.3 L780.3,515.3 L778.7,513.0 L778.9,512.0 L780.8,512.1 L781.5,509.0 L781.5,509.0 L780.2,506.5 L780.5,505.6 L782.5,506.2 L783.7,503.6 L783.7,503.6 L782.7,501.0 L783.1,500.3 L785.2,501.3 L786.9,499.2 L786.9,499.2 L786.2,496.6 L786.7,496.1 L788.8,497.5 L790.9,496.0 L790.9,496.0 L790.5,493.5 L791.2,493.2 L793.2,494.9 L795.7,494.1 L795.7,494.1 L795.7,491.8 L796.5,491.6 L798.3,493.7 L801.0,493.6 L801.0,493.6 L801.4,491.4 L802.3,491.5 L803.9,493.8 L806.8,494.4 L806.8,494.4 L807.6,492.5 L808.4,492.8 L809.9,495.3 L812.9,496.5 L812.9,496.5 L813.9,495.0 L814.9,495.5 L816.0,498.1 L819.0,499.9 L819.0,499.9 L820.4,498.8 L821.3,499.4 L822.1,502.1 L825.1,504.5 L825.1,504.5 L826.6,503.8 L827.5,504.6 L828.0,507.2 L830.8,510.1 L830.8,510.1 L832.6,509.9 L833.4,510.8 L833.5,513.2 L836.0,516.5 L836.0,516.5 L838.0,516.8 L838.7,517.8 L838.4,520.0 L840.7,523.7 L840.7,523.7 L842.7,524.3 L843.3,525.4 L842.7,527.4 L844.5,531.2 L844.5,531.2 L846.6,532.3 L847.0,533.5 L846.1,535.1 L847.5,539.0 L847.5,539.0 L849.5,540.5 L849.8,541.6 L848.6,542.9 L849.5,546.8 L849.5,546.8 L851.4,548.6 L851.6,549.7 L850.1,550.5 L850.4,554.3 L850.4,554.3 L852.2,556.4 L852.2,557.5 L850.5,557.8 L850.3,561.3 L850.3,561.3 L851.9,563.6 L851.7,564.6 L849.8,564.5 L849.1,567.6 L849.1,567.6 L850.4,570.1 L850.1,571.0 L848.1,570.4 L846.9,573.0 L846.9,573.0 L847.9,575.6 L847.5,576.3 L845.4,575.3 L843.7,577.4 L843.7,577.4 L844.4,580.0 L843.9,580.5 L841.8,579.1 L839.7,580.6 L839.7,580.6 Z" fill="#fff" stroke="#000" stroke-width="1.5" stroke-linejoin="round" />
<ellipse cx="815.30" cy="538.30" rx="44.40" ry="26.64" transform="rotate(60.0 815.30 538.30)" fill="none" stroke="#000" stroke-width="1.0" />
<ellipse cx="815.30" cy="538.30" rx="42.60" ry="25.56" transform="rotate(60.0 815.30 538.30)" fill="none" stroke="#000" stroke-width="1.4" />
<ellipse cx="873.40" cy="505.40" rx="49.40" ry="29.64" transform="rotate(60.0 873.40 505.40)" fill="none" stroke="#000" stroke-width="1.3" />
<ellipse cx="873.40" cy="505.40" rx="47.40" ry="28.44" transform="rotate(60.0 873.40 505.40)" fill="none" stroke="#000" stroke-width="1.0" />
<path d="M895.1,543.0 L895.1,543.0 L895.7,545.0 L894.8,545.4 L893.5,543.8 L891.3,544.6 L891.3,544.6 L891.6,546.5 L890.7,546.7 L889.4,545.0 L887.1,545.2 L887.1,545.2 L887.1,547.0 L886.2,547.0 L885.0,545.1 L882.5,544.8 L882.5,544.8 L882.3,546.5 L881.3,546.3 L880.4,544.3 L877.7,543.5 L877.7,543.5 L877.3,545.0 L876.2,544.5 L875.5,542.5 L872.8,541.2 L872.8,541.2 L872.2,542.5 L871.1,541.8 L870.6,539.9 L867.9,538.0 L867.9,538.0 L867.1,539.1 L866.0,538.2 L865.7,536.3 L863.2,534.1 L863.2,534.1 L862.1,534.8 L861.1,533.9 L861.1,532.0 L858.7,529.4 L858.7,529.4 L857.4,529.9 L856.5,528.8 L856.7,527.1 L854.5,524.1 L854.5,524.1 L853.2,524.3 L852.3,523.1 L852.8,521.6 L850.8,518.4 L850.8,518.4 L849.4,518.3 L848.7,517.0 L849.4,515.7 L847.7,512.4 L847.7,512.4 L846.2,511.9 L845.6,510.6 L846.5,509.6 L845.2,506.2 L845.2,506.2 L843.7,505.4 L843.2,504.0 L844.4,503.4 L843.5,499.9 L843.5,499.9 L841.9,498.9 L841.6,497.6 L842.9,497.2 L842.4,493.8 L842.4,493.8 L840.9,492.6 L840.8,491.3 L842.2,491.2 L842.1,488.0 L842.1,488.0 L840.7,486.5 L840.7,485.3 L842.2,485.5 L842.6,482.6 L842.6,482.6 L841.3,481.0 L841.5,479.9 L843.1,480.4 L843.8,477.8 L843.8,477.8 L842.7,476.0 L843.1,475.0 L844.6,475.9 L845.8,473.7 L845.8,473.7 L844.8,471.7 L845.4,471.0 L846.9,472.1 L848.4,470.3 L848.4,470.3 L847.7,468.3 L848.3,467.7 L849.8,469.1 L851.7,467.8 L851.7,467.8 L851.1,465.8 L852.0,465.4 L853.3,467.0 L855.5,466.2 L855.5,466.2 L855.2,464.3 L856.1,464.1 L857.4,465.8 L859.7,465.6 L859.7,465.6 L859.7,463.8 L860.6,463.8 L861.8,465.7 L864.3,466.0 L864.3,466.0 L864.5,464.3 L865.5,464.5 L866.4,466.5 L869.1,467.3 L869.1,467.3 L869.5,465.8 L870.6,466.3 L871.3,468.3 L874.0,469.6 L874.0,469.6 L874.6,468.3 L875.7,469.0 L876.2,470.9 L878.9,472.8 L878.9,472.8 L879.7,471.7 L880.8,472.6 L881.1,474.5 L883.6,476.7 L883.6,476.7 L884.7,476.0 L885.7,476.9 L885.7,478.8 L888.1,481.4 L888.1,481.4 L889.4,480.9 L890.3,482.0 L890.1,483.7 L892.3,486.7 L892.3,486.7 L893.6,486.5 L894.5,487.7 L894.0,489.2 L896.0,492.4 L896.0,492.4 L897.4,492.5 L898.1,493.8 L897.4,495.1 L899.1,498.4 L899.1,498.4 L900.6,498.9 L901.2,500.2 L900.3,501.2 L901.6,504.6 L901.6,504.6 L903.1,505.4 L903.6,506.8 L902.4,507.4 L903.3,510.9 L903.3,510.9 L904.9,511.9 L905.2,513.2 L903.9,513.6 L904.4,517.0 L904.4,517.0 L905.9,518.2 L906.0,519.5 L904.6,519.6 L904.7,522.8 L904.7,522.8 L906.1,524.3 L906.1,525.5 L904.6,525.3 L904.2,528.2 L904.2,528.2 L905.5,529.8 L905.3,530.9 L903.7,530.4 L903.0,533.0 L903.0,533.0 L904.1,534.8 L903.7,535.8 L902.2,534.9 L901.0,537.1 L901.0,537.1 L902.0,539.1 L901.4,539.8 L899.9,538.7 L898.4,540.5 L898.4,540.5 L899.1,542.5 L898.5,543.1 L897.0,541.7 L895.1,543.0 L895.1,543.0 Z" fill="none" stroke="#000" stroke-width="1.5" stroke-linejoin="round" />
<line x1="859.7" y1="465.6" x2="857.8" y2="460.1" stroke="#000" stroke-width="1.3" />
<line x1="842.1" y1="487.5" x2="837.8" y2="485.1" stroke="#000" stroke-width="1.3" />
<line x1="889.1" y1="545.0" x2="891.3" y2="550.5" stroke="#000" stroke-width="1.3" />
<path d="M906.9,429.3 L907.9,428.7 L909.0,428.2 L910.1,427.8 L911.3,427.5 L912.4,427.2 L913.6,427.0 L914.9,426.8 L916.1,426.8 L917.4,426.8 L918.7,426.8 L920.0,427.0 L921.4,427.2 L922.7,427.5 L924.1,427.8 L925.5,428.2 L926.9,428.7 L928.3,429.3 L929.7,429.9 L931.1,430.6 L932.5,431.3 L933.9,432.2 L935.3,433.0 L936.7,434.0 L938.1,435.0 L939.5,436.0 L940.9,437.1 L942.2,438.3 L943.6,439.5 L944.9,440.8 L946.2,442.1 L947.5,443.5 L948.7,444.9 L950.0,446.3 L951.2,447.8 L952.3,449.3 L953.5,450.9 L954.6,452.5 L955.6,454.1 L956.7,455.8 L957.7,457.5 L958.6,459.2 L959.6,460.9 L960.4,462.6 L961.3,464.4 L962.0,466.2 L962.8,467.9 L963.5,469.7 L964.1,471.5 L964.7,473.3 L965.2,475.1 L965.7,476.9 L966.2,478.7 L966.5,480.4 L966.9,482.2 L967.2,483.9 L967.4,485.7 L967.5,487.4 L967.7,489.0 L967.7,490.7 L967.7,492.3 L967.7,493.9 L967.5,495.5 L967.4,497.0 L967.2,498.5 L966.9,500.0 L966.6,501.4 L966.2,502.7 L965.7,504.0 L965.3,505.3 L964.7,506.5 L964.1,507.7 L963.5,508.8 L962.8,509.9 L962.1,510.8 L961.3,511.8 L960.4,512.7 L959.6,513.5 L958.7,514.2 L957.7,514.9 L956.7,515.5" fill="none" stroke="#000" stroke-width="0.9" />
<path d="M954.3,515.8 L954.3,515.8 L954.7,518.3 L954.0,518.6 L952.0,516.9 L949.5,517.7 L949.5,517.7 L949.5,520.0 L948.7,520.2 L946.9,518.1 L944.2,518.2 L944.2,518.2 L943.8,520.4 L942.9,520.3 L941.3,518.0 L938.4,517.4 L938.4,517.4 L937.6,519.3 L936.8,519.0 L935.3,516.5 L932.3,515.3 L932.3,515.3 L931.3,516.8 L930.3,516.3 L929.2,513.7 L926.2,511.9 L926.2,511.9 L924.8,513.0 L923.9,512.4 L923.1,509.7 L920.1,507.3 L920.1,507.3 L918.6,508.0 L917.7,507.2 L917.2,504.6 L914.4,501.7 L914.4,501.7 L912.6,501.9 L911.8,501.0 L911.7,498.6 L909.2,495.3 L909.2,495.3 L907.2,495.0 L906.5,494.0 L906.8,491.8 L904.5,488.1 L904.5,488.1 L902.5,487.5 L901.9,486.4 L902.5,484.4 L900.7,480.6 L900.7,480.6 L898.6,479.5 L898.2,478.3 L899.1,476.7 L897.7,472.8 L897.7,472.8 L895.7,471.3 L895.4,470.2 L896.6,468.9 L895.7,465.0 L895.7,465.0 L893.8,463.2 L893.6,462.1 L895.1,461.3 L894.8,457.5 L894.8,457.5 L893.0,455.4 L893.0,454.3 L894.7,454.0 L894.9,450.5 L894.9,450.5 L893.3,448.2 L893.5,447.2 L895.4,447.3 L896.1,444.2 L896.1,444.2 L894.8,441.7 L895.1,440.8 L897.1,441.4 L898.3,438.8 L898.3,438.8 L897.3,436.2 L897.7,435.5 L899.8,436.5 L901.5,434.4 L901.5,434.4 L900.8,431.8 L901.3,431.3 L903.4,432.7 L905.5,431.2 L905.5,431.2 L905.1,428.7 L905.8,428.4 L907.8,430.1 L910.3,429.3 L910.3,429.3 L910.3,427.0 L911.1,426.8 L912.9,428.9 L915.6,428.8 L915.6,428.8 L916.0,426.6 L916.9,426.7 L918.5,429.0 L921.4,429.6 L921.4,429.6 L922.2,427.7 L923.0,428.0 L924.5,430.5 L927.5,431.7 L927.5,431.7 L928.5,430.2 L929.5,430.7 L930.6,433.3 L933.6,435.1 L933.6,435.1 L935.0,434.0 L935.9,434.6 L936.7,437.3 L939.7,439.7 L939.7,439.7 L941.2,439.0 L942.1,439.8 L942.6,442.4 L945.4,445.3 L945.4,445.3 L947.2,445.1 L948.0,446.0 L948.1,448.4 L950.6,451.7 L950.6,451.7 L952.6,452.0 L953.3,453.0 L953.0,455.2 L955.3,458.9 L955.3,458.9 L957.3,459.5 L957.9,460.6 L957.3,462.6 L959.1,466.4 L959.1,466.4 L961.2,467.5 L961.6,468.7 L960.7,470.3 L962.1,474.2 L962.1,474.2 L964.1,475.7 L964.4,476.8 L963.2,478.1 L964.1,482.0 L964.1,482.0 L966.0,483.8 L966.2,484.9 L964.7,485.7 L965.0,489.5 L965.0,489.5 L966.8,491.6 L966.8,492.7 L965.1,493.0 L964.9,496.5 L964.9,496.5 L966.5,498.8 L966.3,499.8 L964.4,499.7 L963.7,502.8 L963.7,502.8 L965.0,505.3 L964.7,506.2 L962.7,505.6 L961.5,508.2 L961.5,508.2 L962.5,510.8 L962.1,511.5 L960.0,510.5 L958.3,512.6 L958.3,512.6 L959.0,515.2 L958.5,515.7 L956.4,514.3 L954.3,515.8 L954.3,515.8 Z" fill="#fff" stroke="#000" stroke-width="1.5" stroke-linejoin="round" />
<ellipse cx="929.90" cy="473.50" rx="44.40" ry="26.64" transform="rotate(60.0 929.90 473.50)" fill="none" stroke="#000" stroke-width="1.0" />
<ellipse cx="929.90" cy="473.50" rx="42.60" ry="25.56" transform="rotate(60.0 929.90 473.50)" fill="none" stroke="#000" stroke-width="1.4" />
<ellipse cx="984.80" cy="441.60" rx="49.40" ry="29.64" transform="rotate(60.0 984.80 441.60)" fill="none" stroke="#000" stroke-width="1.3" />
<ellipse cx="984.80" cy="441.60" rx="47.40" ry="28.44" transform="rotate(60.0 984.80 441.60)" fill="none" stroke="#000" stroke-width="1.0" />
<path d="M1006.5,479.2 L1006.5,479.2 L1007.1,481.2 L1006.2,481.6 L1004.9,480.0 L1002.7,480.8 L1002.7,480.8 L1003.0,482.7 L1002.1,482.9 L1000.8,481.2 L998.5,481.4 L998.5,481.4 L998.5,483.2 L997.6,483.2 L996.4,481.3 L993.9,481.0 L993.9,481.0 L993.7,482.7 L992.7,482.5 L991.8,480.5 L989.1,479.7 L989.1,479.7 L988.7,481.2 L987.6,480.7 L986.9,478.7 L984.2,477.4 L984.2,477.4 L983.6,478.7 L982.5,478.0 L982.0,476.1 L979.3,474.2 L979.3,474.2 L978.5,475.3 L977.4,474.4 L977.1,472.5 L974.6,470.3 L974.6,470.3 L973.5,471.0 L972.5,470.1 L972.5,468.2 L970.1,465.6 L970.1,465.6 L968.8,466.1 L967.9,465.0 L968.1,463.3 L965.9,460.3 L965.9,460.3 L964.6,460.5 L963.7,459.3 L964.2,457.8 L962.2,454.6 L962.2,454.6 L960.8,454.5 L960.1,453.2 L960.8,451.9 L959.1,448.6 L959.1,448.6 L957.6,448.1 L957.0,446.8 L957.9,445.8 L956.6,442.4 L956.6,442.4 L955.1,441.6 L954.6,440.2 L955.8,439.6 L954.9,436.1 L954.9,436.1 L953.3,435.1 L953.0,433.8 L954.3,433.4 L953.8,430.0 L953.8,430.0 L952.3,428.8 L952.2,427.5 L953.6,427.4 L953.5,424.2 L953.5,424.2 L952.1,422.7 L952.1,421.5 L953.6,421.7 L954.0,418.8 L954.0,418.8 L952.7,417.2 L952.9,416.1 L954.5,416.6 L955.2,414.0 L955.2,414.0 L954.1,412.2 L954.5,411.2 L956.0,412.1 L957.2,409.9 L957.2,409.9 L956.2,407.9 L956.8,407.2 L958.3,408.3 L959.8,406.5 L959.8,406.5 L959.1,404.5 L959.7,403.9 L961.2,405.3 L963.1,404.0 L963.1,404.0 L962.5,402.0 L963.4,401.6 L964.7,403.2 L966.9,402.4 L966.9,402.4 L966.6,400.5 L967.5,400.3 L968.8,402.0 L971.1,401.8 L971.1,401.8 L971.1,400.0 L972.0,400.0 L973.2,401.9 L975.7,402.2 L975.7,402.2 L975.9,400.5 L976.9,400.7 L977.8,402.7 L980.5,403.5 L980.5,403.5 L980.9,402.0 L982.0,402.5 L982.7,404.5 L985.4,405.8 L985.4,405.8 L986.0,404.5 L987.1,405.2 L987.6,407.1 L990.3,409.0 L990.3,409.0 L991.1,407.9 L992.2,408.8 L992.5,410.7 L995.0,412.9 L995.0,412.9 L996.1,412.2 L997.1,413.1 L997.1,415.0 L999.5,417.6 L999.5,417.6 L1000.8,417.1 L1001.7,418.2 L1001.5,419.9 L1003.7,422.9 L1003.7,422.9 L1005.0,422.7 L1005.9,423.9 L1005.4,425.4 L1007.4,428.6 L1007.4,428.6 L1008.8,428.7 L1009.5,430.0 L1008.8,431.3 L1010.5,434.6 L1010.5,434.6 L1012.0,435.1 L1012.6,436.4 L1011.7,437.4 L1013.0,440.8 L1013.0,440.8 L1014.5,441.6 L1015.0,443.0 L1013.8,443.6 L1014.7,447.1 L1014.7,447.1 L1016.3,448.1 L1016.6,449.4 L1015.3,449.8 L1015.8,453.2 L1015.8,453.2 L1017.3,454.4 L1017.4,455.7 L1016.0,455.8 L1016.1,459.0 L1016.1,459.0 L1017.5,460.5 L1017.5,461.7 L1016.0,461.5 L1015.6,464.4 L1015.6,464.4 L1016.9,466.0 L1016.7,467.1 L1015.1,466.6 L1014.4,469.2 L1014.4,469.2 L1015.5,471.0 L1015.1,472.0 L1013.6,471.1 L1012.4,473.3 L1012.4,473.3 L1013.4,475.3 L1012.8,476.0 L1011.3,474.9 L1009.8,476.7 L1009.8,476.7 L1010.5,478.7 L1009.9,479.3 L1008.4,477.9 L1006.5,479.2 L1006.5,479.2 Z" fill="none" stroke="#000" stroke-width="1.5" stroke-linejoin="round" />
<line x1="971.1" y1="401.8" x2="969.2" y2="396.3" stroke="#000" stroke-width="1.3" />
<line x1="953.5" y1="423.7" x2="949.2" y2="421.3" stroke="#000" stroke-width="1.3" />
<line x1="1000.5" y1="481.2" x2="1002.7" y2="486.7" stroke="#000" stroke-width="1.3" />
<path d="M868.3,774.8 L869.3,774.2 L870.4,773.7 L871.5,773.3 L872.7,773.0 L873.8,772.7 L875.0,772.5 L876.3,772.3 L877.5,772.3 L878.8,772.3 L880.1,772.3 L881.4,772.5 L882.8,772.7 L884.1,773.0 L885.5,773.3 L886.9,773.7 L888.3,774.2 L889.7,774.8 L891.1,775.4 L892.5,776.1 L893.9,776.8 L895.3,777.7 L896.7,778.5 L898.1,779.5 L899.5,780.5 L900.9,781.5 L902.3,782.6 L903.6,783.8 L905.0,785.0 L906.3,786.3 L907.6,787.6 L908.9,789.0 L910.1,790.4 L911.4,791.8 L912.6,793.3 L913.7,794.8 L914.9,796.4 L916.0,798.0 L917.0,799.6 L918.1,801.3 L919.1,803.0 L920.0,804.7 L921.0,806.4 L921.8,808.1 L922.7,809.9 L923.4,811.7 L924.2,813.4 L924.9,815.2 L925.5,817.0 L926.1,818.8 L926.6,820.6 L927.1,822.4 L927.6,824.2 L927.9,825.9 L928.3,827.7 L928.6,829.4 L928.8,831.2 L928.9,832.9 L929.1,834.5 L929.1,836.2 L929.1,837.8 L929.1,839.4 L928.9,841.0 L928.8,842.5 L928.6,844.0 L928.3,845.5 L928.0,846.9 L927.6,848.2 L927.1,849.5 L926.7,850.8 L926.1,852.0 L925.5,853.2 L924.9,854.3 L924.2,855.4 L923.5,856.3 L922.7,857.3 L921.8,858.2 L921.0,859.0 L920.1,859.7 L919.1,860.4 L918.1,861.0" fill="none" stroke="#000" stroke-width="0.9" />
<path d="M915.7,861.3 L915.7,861.3 L916.1,863.8 L915.4,864.1 L913.4,862.4 L910.9,863.2 L910.9,863.2 L910.9,865.5 L910.1,865.7 L908.3,863.6 L905.6,863.7 L905.6,863.7 L905.2,865.9 L904.3,865.8 L902.7,863.5 L899.8,862.9 L899.8,862.9 L899.0,864.8 L898.2,864.5 L896.7,862.0 L893.7,860.8 L893.7,860.8 L892.7,862.3 L891.7,861.8 L890.6,859.2 L887.6,857.4 L887.6,857.4 L886.2,858.5 L885.3,857.9 L884.5,855.2 L881.5,852.8 L881.5,852.8 L880.0,853.5 L879.1,852.7 L878.6,850.1 L875.8,847.2 L875.8,847.2 L874.0,847.4 L873.2,846.5 L873.1,844.1 L870.6,840.8 L870.6,840.8 L868.6,840.5 L867.9,839.5 L868.2,837.3 L865.9,833.6 L865.9,833.6 L863.9,833.0 L863.3,831.9 L863.9,829.9 L862.1,826.1 L862.1,826.1 L860.0,825.0 L859.6,823.8 L860.5,822.2 L859.1,818.3 L859.1,818.3 L857.1,816.8 L856.8,815.7 L858.0,814.4 L857.1,810.5 L857.1,810.5 L855.2,808.7 L855.0,807.6 L856.5,806.8 L856.2,803.0 L856.2,803.0 L854.4,800.9 L854.4,799.8 L856.1,799.5 L856.3,796.0 L856.3,796.0 L854.7,793.7 L854.9,792.7 L856.8,792.8 L857.5,789.7 L857.5,789.7 L856.2,787.2 L856.5,786.3 L858.5,786.9 L859.7,784.3 L859.7,784.3 L858.7,781.7 L859.1,781.0 L861.2,782.0 L862.9,779.9 L862.9,779.9 L862.2,777.3 L862.7,776.8 L864.8,778.2 L866.9,776.7 L866.9,776.7 L866.5,774.2 L867.2,773.9 L869.2,775.6 L871.7,774.8 L871.7,774.8 L871.7,772.5 L872.5,772.3 L874.3,774.4 L877.0,774.3 L877.0,774.3 L877.4,772.1 L878.3,772.2 L879.9,774.5 L882.8,775.1 L882.8,775.1 L883.6,773.2 L884.4,773.5 L885.9,776.0 L888.9,777.2 L888.9,777.2 L889.9,775.7 L890.9,776.2 L892.0,778.8 L895.0,780.6 L895.0,780.6 L896.4,779.5 L897.3,780.1 L898.1,782.8 L901.1,785.2 L901.1,785.2 L902.6,784.5 L903.5,785.3 L904.0,787.9 L906.8,790.8 L906.8,790.8 L908.6,790.6 L909.4,791.5 L909.5,793.9 L912.0,797.2 L912.0,797.2 L914.0,797.5 L914.7,798.5 L914.4,800.7 L916.7,804.4 L916.7,804.4 L918.7,805.0 L919.3,806.1 L918.7,808.1 L920.5,811.9 L920.5,811.9 L922.6,813.0 L923.0,814.2 L922.1,815.8 L923.5,819.7 L923.5,819.7 L925.5,821.2 L925.8,822.3 L924.6,823.6 L925.5,827.5 L925.5,827.5 L927.4,829.3 L927.6,830.4 L926.1,831.2 L926.4,835.0 L926.4,835.0 L928.2,837.1 L928.2,838.2 L926.5,838.5 L926.3,842.0 L926.3,842.0 L927.9,844.3 L927.7,845.3 L925.8,845.2 L925.1,848.3 L925.1,848.3 L926.4,850.8 L926.1,851.7 L924.1,851.1 L922.9,853.7 L922.9,853.7 L923.9,856.3 L923.5,857.0 L921.4,856.0 L919.7,858.1 L919.7,858.1 L920.4,860.7 L919.9,861.2 L917.8,859.8 L915.7,861.3 L915.7,861.3 Z" fill="#fff" stroke="#000" stroke-width="1.5" stroke-linejoin="round" />
<ellipse cx="891.30" cy="819.00" rx="44.40" ry="26.64" transform="rotate(60.0 891.30 819.00)" fill="none" stroke="#000" stroke-width="1.0" />
<ellipse cx="891.30" cy="819.00" rx="42.60" ry="25.56" transform="rotate(60.0 891.30 819.00)" fill="none" stroke="#000" stroke-width="1.4" />
<path d="M958.6,750.3 L960.3,751.8 L962.0,753.4 L963.6,755.1 L965.2,756.8 L966.8,758.6 L968.3,760.5 L969.8,762.4 L971.2,764.4 L972.6,766.4 L973.9,768.5 L975.2,770.6 L976.4,772.8 L977.5,775.0 L978.6,777.2 L979.6,779.4 L980.5,781.7 L981.3,783.9 L982.1,786.2 L982.8,788.4 L983.4,790.7 L983.9,792.9 L984.4,795.2 L984.7,797.4 L985.0,799.5 L985.2,801.7 L985.3,803.8 L985.3,805.8 L985.2,807.9 L985.1,809.8 L984.8,811.7 L984.5,813.6 L984.1,815.3 L983.6,817.0 L983.0,818.7 L982.3,820.2 L981.6,821.7 L980.7,823.0 L979.8,824.3 L978.9,825.5 L977.8,826.6 L976.7,827.6 L975.5,828.6 L974.3,829.4 L973.0,830.1 L971.6,830.6 L970.2,831.1 L968.7,831.5 L967.2,831.8 L965.7,831.9 L964.1,832.0 L962.4,831.9 L960.8,831.7 L959.1,831.5 L957.3,831.1 L955.6,830.6 L953.8,830.0 L952.1,829.2 L950.3,828.4 L948.5,827.5 L946.7,826.5 L945.0,825.4 L943.2,824.2 L941.5,822.9 L939.7,821.5 L938.0,820.0 L936.3,818.4 L934.7,816.8 L933.0,815.1 L931.5,813.3 L929.9,811.5 L928.4,809.5 L927.0,807.6 L925.6,805.6 L924.2,803.5 L923.0,801.4 L921.8,799.2 L920.6,797.1 L919.5,794.9 L918.5,792.6 L917.6,790.4 L916.7,788.1 L915.9,785.9 L915.2,783.6 L914.6,781.3 L914.0,779.1 L913.5,776.9 L913.2,774.7 L912.9,772.5 L912.6,770.3 L912.5,768.2 L912.5,766.1 L912.5,764.1 L912.7,762.1 L912.9,760.2 L913.2,758.4 L913.6,756.6 L914.1,754.9 L914.6,753.2 L915.3,751.6 L916.0,750.1 L916.8,748.7 L917.7,747.4 L918.6,746.2 L919.7,745.1 L920.8,744.0 L921.9,743.1 L923.2,742.3 L924.4,741.5 L925.8,740.9 L927.2,740.4 L928.6,740.0 L930.1,739.7 L931.7,739.5 L933.3,739.4 L934.9,739.4 L936.6,739.6 L938.3,739.8 L940.0,740.2 L941.7,740.7 L943.5,741.3" fill="none" stroke="#000" stroke-width="4.4" stroke-linecap="round"/>
<path d="M958.6,750.3 L960.3,751.8 L962.0,753.4 L963.6,755.1 L965.2,756.8 L966.8,758.6 L968.3,760.5 L969.8,762.4 L971.2,764.4 L972.6,766.4 L973.9,768.5 L975.2,770.6 L976.4,772.8 L977.5,775.0 L978.6,777.2 L979.6,779.4 L980.5,781.7 L981.3,783.9 L982.1,786.2 L982.8,788.4 L983.4,790.7 L983.9,792.9 L984.4,795.2 L984.7,797.4 L985.0,799.5 L985.2,801.7 L985.3,803.8 L985.3,805.8 L985.2,807.9 L985.1,809.8 L984.8,811.7 L984.5,813.6 L984.1,815.3 L983.6,817.0 L983.0,818.7 L982.3,820.2 L981.6,821.7 L980.7,823.0 L979.8,824.3 L978.9,825.5 L977.8,826.6 L976.7,827.6 L975.5,828.6 L974.3,829.4 L973.0,830.1 L971.6,830.6 L970.2,831.1 L968.7,831.5 L967.2,831.8 L965.7,831.9 L964.1,832.0 L962.4,831.9 L960.8,831.7 L959.1,831.5 L957.3,831.1 L955.6,830.6 L953.8,830.0 L952.1,829.2 L950.3,828.4 L948.5,827.5 L946.7,826.5 L945.0,825.4 L943.2,824.2 L941.5,822.9 L939.7,821.5 L938.0,820.0 L936.3,818.4 L934.7,816.8 L933.0,815.1 L931.5,813.3 L929.9,811.5 L928.4,809.5 L927.0,807.6 L925.6,805.6 L924.2,803.5 L923.0,801.4 L921.8,799.2 L920.6,797.1 L919.5,794.9 L918.5,792.6 L917.6,790.4 L916.7,788.1 L915.9,785.9 L915.2,783.6 L914.6,781.3 L914.0,779.1 L913.5,776.9 L913.2,774.7 L912.9,772.5 L912.6,770.3 L912.5,768.2 L912.5,766.1 L912.5,764.1 L912.7,762.1 L912.9,760.2 L913.2,758.4 L913.6,756.6 L914.1,754.9 L914.6,753.2 L915.3,751.6 L916.0,750.1 L916.8,748.7 L917.7,747.4 L918.6,746.2 L919.7,745.1 L920.8,744.0 L921.9,743.1 L923.2,742.3 L924.4,741.5 L925.8,740.9 L927.2,740.4 L928.6,740.0 L930.1,739.7 L931.7,739.5 L933.3,739.4 L934.9,739.4 L936.6,739.6 L938.3,739.8 L940.0,740.2 L941.7,740.7 L943.5,741.3" fill="none" stroke="#fff" stroke-width="2.0000000000000004" stroke-linecap="round"/>
<path d="M985.1,707.7 L986.1,707.1 L987.2,706.6 L988.3,706.2 L989.5,705.9 L990.6,705.6 L991.8,705.4 L993.1,705.2 L994.3,705.2 L995.6,705.2 L996.9,705.2 L998.2,705.4 L999.6,705.6 L1000.9,705.9 L1002.3,706.2 L1003.7,706.6 L1005.1,707.1 L1006.5,707.7 L1007.9,708.3 L1009.3,709.0 L1010.7,709.7 L1012.1,710.6 L1013.5,711.4 L1014.9,712.4 L1016.3,713.4 L1017.7,714.4 L1019.1,715.5 L1020.4,716.7 L1021.8,717.9 L1023.1,719.2 L1024.4,720.5 L1025.7,721.9 L1026.9,723.3 L1028.2,724.7 L1029.4,726.2 L1030.5,727.7 L1031.7,729.3 L1032.8,730.9 L1033.8,732.5 L1034.9,734.2 L1035.9,735.9 L1036.8,737.6 L1037.8,739.3 L1038.6,741.0 L1039.5,742.8 L1040.2,744.6 L1041.0,746.3 L1041.7,748.1 L1042.3,749.9 L1042.9,751.7 L1043.4,753.5 L1043.9,755.3 L1044.4,757.1 L1044.7,758.8 L1045.1,760.6 L1045.4,762.3 L1045.6,764.1 L1045.7,765.8 L1045.9,767.4 L1045.9,769.1 L1045.9,770.7 L1045.9,772.3 L1045.7,773.9 L1045.6,775.4 L1045.4,776.9 L1045.1,778.4 L1044.8,779.8 L1044.4,781.1 L1043.9,782.4 L1043.5,783.7 L1042.9,784.9 L1042.3,786.1 L1041.7,787.2 L1041.0,788.3 L1040.3,789.2 L1039.5,790.2 L1038.6,791.1 L1037.8,791.9 L1036.9,792.6 L1035.9,793.3 L1034.9,793.9" fill="none" stroke="#000" stroke-width="0.9" />
<path d="M1032.5,794.2 L1032.5,794.2 L1032.9,796.7 L1032.2,797.0 L1030.2,795.3 L1027.7,796.1 L1027.7,796.1 L1027.7,798.4 L1026.9,798.6 L1025.1,796.5 L1022.4,796.6 L1022.4,796.6 L1022.0,798.8 L1021.1,798.7 L1019.5,796.4 L1016.6,795.8 L1016.6,795.8 L1015.8,797.7 L1015.0,797.4 L1013.5,794.9 L1010.5,793.7 L1010.5,793.7 L1009.5,795.2 L1008.5,794.7 L1007.4,792.1 L1004.4,790.3 L1004.4,790.3 L1003.0,791.4 L1002.1,790.8 L1001.3,788.1 L998.3,785.7 L998.3,785.7 L996.8,786.4 L995.9,785.6 L995.4,783.0 L992.6,780.1 L992.6,780.1 L990.8,780.3 L990.0,779.4 L989.9,777.0 L987.4,773.7 L987.4,773.7 L985.4,773.4 L984.7,772.4 L985.0,770.2 L982.7,766.5 L982.7,766.5 L980.7,765.9 L980.1,764.8 L980.7,762.8 L978.9,759.0 L978.9,759.0 L976.8,757.9 L976.4,756.7 L977.3,755.1 L975.9,751.2 L975.9,751.2 L973.9,749.7 L973.6,748.6 L974.8,747.3 L973.9,743.4 L973.9,743.4 L972.0,741.6 L971.8,740.5 L973.3,739.7 L973.0,735.9 L973.0,735.9 L971.2,733.8 L971.2,732.7 L972.9,732.4 L973.1,728.9 L973.1,728.9 L971.5,726.6 L971.7,725.6 L973.6,725.7 L974.3,722.6 L974.3,722.6 L973.0,720.1 L973.3,719.2 L975.3,719.8 L976.5,717.2 L976.5,717.2 L975.5,714.6 L975.9,713.9 L978.0,714.9 L979.7,712.8 L979.7,712.8 L979.0,710.2 L979.5,709.7 L981.6,711.1 L983.7,709.6 L983.7,709.6 L983.3,707.1 L984.0,706.8 L986.0,708.5 L988.5,707.7 L988.5,707.7 L988.5,705.4 L989.3,705.2 L991.1,707.3 L993.8,707.2 L993.8,707.2 L994.2,705.0 L995.1,705.1 L996.7,707.4 L999.6,708.0 L999.6,708.0 L1000.4,706.1 L1001.2,706.4 L1002.7,708.9 L1005.7,710.1 L1005.7,710.1 L1006.7,708.6 L1007.7,709.1 L1008.8,711.7 L1011.8,713.5 L1011.8,713.5 L1013.2,712.4 L1014.1,713.0 L1014.9,715.7 L1017.9,718.1 L1017.9,718.1 L1019.4,717.4 L1020.3,718.2 L1020.8,720.8 L1023.6,723.7 L1023.6,723.7 L1025.4,723.5 L1026.2,724.4 L1026.3,726.8 L1028.8,730.1 L1028.8,730.1 L1030.8,730.4 L1031.5,731.4 L1031.2,733.6 L1033.5,737.3 L1033.5,737.3 L1035.5,737.9 L1036.1,739.0 L1035.5,741.0 L1037.3,744.8 L1037.3,744.8 L1039.4,745.9 L1039.8,747.1 L1038.9,748.7 L1040.3,752.6 L1040.3,752.6 L1042.3,754.1 L1042.6,755.2 L1041.4,756.5 L1042.3,760.4 L1042.3,760.4 L1044.2,762.2 L1044.4,763.3 L1042.9,764.1 L1043.2,767.9 L1043.2,767.9 L1045.0,770.0 L1045.0,771.1 L1043.3,771.4 L1043.1,774.9 L1043.1,774.9 L1044.7,777.2 L1044.5,778.2 L1042.6,778.1 L1041.9,781.2 L1041.9,781.2 L1043.2,783.7 L1042.9,784.6 L1040.9,784.0 L1039.7,786.6 L1039.7,786.6 L1040.7,789.2 L1040.3,789.9 L1038.2,788.9 L1036.5,791.0 L1036.5,791.0 L1037.2,793.6 L1036.7,794.1 L1034.6,792.7 L1032.5,794.2 L1032.5,794.2 Z" fill="#fff" stroke="#000" stroke-width="1.5" stroke-linejoin="round" />
<ellipse cx="1008.10" cy="751.90" rx="44.40" ry="26.64" transform="rotate(60.0 1008.10 751.90)" fill="none" stroke="#000" stroke-width="1.0" />
<ellipse cx="1008.10" cy="751.90" rx="42.60" ry="25.56" transform="rotate(60.0 1008.10 751.90)" fill="none" stroke="#000" stroke-width="1.4" />
<ellipse cx="1064.60" cy="719.40" rx="49.40" ry="29.64" transform="rotate(60.0 1064.60 719.40)" fill="none" stroke="#000" stroke-width="1.3" />
<ellipse cx="1064.60" cy="719.40" rx="47.40" ry="28.44" transform="rotate(60.0 1064.60 719.40)" fill="none" stroke="#000" stroke-width="1.0" />
<path d="M1086.3,757.0 L1086.3,757.0 L1086.9,759.0 L1086.0,759.4 L1084.7,757.8 L1082.5,758.6 L1082.5,758.6 L1082.8,760.5 L1081.9,760.7 L1080.6,759.0 L1078.3,759.2 L1078.3,759.2 L1078.3,761.0 L1077.4,761.0 L1076.2,759.1 L1073.7,758.8 L1073.7,758.8 L1073.5,760.5 L1072.5,760.3 L1071.6,758.3 L1068.9,757.5 L1068.9,757.5 L1068.5,759.0 L1067.4,758.5 L1066.7,756.5 L1064.0,755.2 L1064.0,755.2 L1063.4,756.5 L1062.3,755.8 L1061.8,753.9 L1059.1,752.0 L1059.1,752.0 L1058.3,753.1 L1057.2,752.2 L1056.9,750.3 L1054.4,748.1 L1054.4,748.1 L1053.3,748.8 L1052.3,747.9 L1052.3,746.0 L1049.9,743.4 L1049.9,743.4 L1048.6,743.9 L1047.7,742.8 L1047.9,741.1 L1045.7,738.1 L1045.7,738.1 L1044.4,738.3 L1043.5,737.1 L1044.0,735.6 L1042.0,732.4 L1042.0,732.4 L1040.6,732.3 L1039.9,731.0 L1040.6,729.7 L1038.9,726.4 L1038.9,726.4 L1037.4,725.9 L1036.8,724.6 L1037.7,723.6 L1036.4,720.2 L1036.4,720.2 L1034.9,719.4 L1034.4,718.0 L1035.6,717.4 L1034.7,713.9 L1034.7,713.9 L1033.1,712.9 L1032.8,711.6 L1034.1,711.2 L1033.6,707.8 L1033.6,707.8 L1032.1,706.6 L1032.0,705.3 L1033.4,705.2 L1033.3,702.0 L1033.3,702.0 L1031.9,700.5 L1031.9,699.3 L1033.4,699.5 L1033.8,696.6 L1033.8,696.6 L1032.5,695.0 L1032.7,693.9 L1034.3,694.4 L1035.0,691.8 L1035.0,691.8 L1033.9,690.0 L1034.3,689.0 L1035.8,689.9 L1037.0,687.7 L1037.0,687.7 L1036.0,685.7 L1036.6,685.0 L1038.1,686.1 L1039.6,684.3 L1039.6,684.3 L1038.9,682.3 L1039.5,681.7 L1041.0,683.1 L1042.9,681.8 L1042.9,681.8 L1042.3,679.8 L1043.2,679.4 L1044.5,681.0 L1046.7,680.2 L1046.7,680.2 L1046.4,678.3 L1047.3,678.1 L1048.6,679.8 L1050.9,679.6 L1050.9,679.6 L1050.9,677.8 L1051.8,677.8 L1053.0,679.7 L1055.5,680.0 L1055.5,680.0 L1055.7,678.3 L1056.7,678.5 L1057.6,680.5 L1060.3,681.3 L1060.3,681.3 L1060.7,679.8 L1061.8,680.3 L1062.5,682.3 L1065.2,683.6 L1065.2,683.6 L1065.8,682.3 L1066.9,683.0 L1067.4,684.9 L1070.1,686.8 L1070.1,686.8 L1070.9,685.7 L1072.0,686.6 L1072.3,688.5 L1074.8,690.7 L1074.8,690.7 L1075.9,690.0 L1076.9,690.9 L1076.9,692.8 L1079.3,695.4 L1079.3,695.4 L1080.6,694.9 L1081.5,696.0 L1081.3,697.7 L1083.5,700.7 L1083.5,700.7 L1084.8,700.5 L1085.7,701.7 L1085.2,703.2 L1087.2,706.4 L1087.2,706.4 L1088.6,706.5 L1089.3,707.8 L1088.6,709.1 L1090.3,712.4 L1090.3,712.4 L1091.8,712.9 L1092.4,714.2 L1091.5,715.2 L1092.8,718.6 L1092.8,718.6 L1094.3,719.4 L1094.8,720.8 L1093.6,721.4 L1094.5,724.9 L1094.5,724.9 L1096.1,725.9 L1096.4,727.2 L1095.1,727.6 L1095.6,731.0 L1095.6,731.0 L1097.1,732.2 L1097.2,733.5 L1095.8,733.6 L1095.9,736.8 L1095.9,736.8 L1097.3,738.3 L1097.3,739.5 L1095.8,739.3 L1095.4,742.2 L1095.4,742.2 L1096.7,743.8 L1096.5,744.9 L1094.9,744.4 L1094.2,747.0 L1094.2,747.0 L1095.3,748.8 L1094.9,749.8 L1093.4,748.9 L1092.2,751.1 L1092.2,751.1 L1093.2,753.1 L1092.6,753.8 L1091.1,752.7 L1089.6,754.5 L1089.6,754.5 L1090.3,756.5 L1089.7,757.1 L1088.2,755.7 L1086.3,757.0 L1086.3,757.0 Z" fill="none" stroke="#000" stroke-width="1.5" stroke-linejoin="round" />
<line x1="1050.9" y1="679.6" x2="1049.0" y2="674.1" stroke="#000" stroke-width="1.3" />
<line x1="1033.3" y1="701.5" x2="1029.0" y2="699.1" stroke="#000" stroke-width="1.3" />
<line x1="1080.3" y1="759.0" x2="1082.5" y2="764.5" stroke="#000" stroke-width="1.3" />
<path d="M1099.4,643.4 L1100.4,642.8 L1101.5,642.3 L1102.6,641.9 L1103.8,641.6 L1104.9,641.3 L1106.1,641.1 L1107.4,640.9 L1108.6,640.9 L1109.9,640.9 L1111.2,640.9 L1112.5,641.1 L1113.9,641.3 L1115.2,641.6 L1116.6,641.9 L1118.0,642.3 L1119.4,642.8 L1120.8,643.4 L1122.2,644.0 L1123.6,644.7 L1125.0,645.4 L1126.4,646.3 L1127.8,647.1 L1129.2,648.1 L1130.6,649.1 L1132.0,650.1 L1133.4,651.2 L1134.7,652.4 L1136.1,653.6 L1137.4,654.9 L1138.7,656.2 L1140.0,657.6 L1141.2,659.0 L1142.5,660.4 L1143.7,661.9 L1144.8,663.4 L1146.0,665.0 L1147.1,666.6 L1148.1,668.2 L1149.2,669.9 L1150.2,671.6 L1151.1,673.3 L1152.1,675.0 L1152.9,676.7 L1153.8,678.5 L1154.5,680.3 L1155.3,682.0 L1156.0,683.8 L1156.6,685.6 L1157.2,687.4 L1157.7,689.2 L1158.2,691.0 L1158.7,692.8 L1159.0,694.5 L1159.4,696.3 L1159.7,698.0 L1159.9,699.8 L1160.0,701.5 L1160.2,703.1 L1160.2,704.8 L1160.2,706.4 L1160.2,708.0 L1160.0,709.6 L1159.9,711.1 L1159.7,712.6 L1159.4,714.1 L1159.1,715.5 L1158.7,716.8 L1158.2,718.1 L1157.8,719.4 L1157.2,720.6 L1156.6,721.8 L1156.0,722.9 L1155.3,724.0 L1154.6,724.9 L1153.8,725.9 L1152.9,726.8 L1152.1,727.6 L1151.2,728.3 L1150.2,729.0 L1149.2,729.6" fill="none" stroke="#000" stroke-width="0.9" />
<path d="M1146.8,729.9 L1146.8,729.9 L1147.2,732.4 L1146.5,732.7 L1144.5,731.0 L1142.0,731.8 L1142.0,731.8 L1142.0,734.1 L1141.2,734.3 L1139.4,732.2 L1136.7,732.3 L1136.7,732.3 L1136.3,734.5 L1135.4,734.4 L1133.8,732.1 L1130.9,731.5 L1130.9,731.5 L1130.1,733.4 L1129.3,733.1 L1127.8,730.6 L1124.8,729.4 L1124.8,729.4 L1123.8,730.9 L1122.8,730.4 L1121.7,727.8 L1118.7,726.0 L1118.7,726.0 L1117.3,727.1 L1116.4,726.5 L1115.6,723.8 L1112.6,721.4 L1112.6,721.4 L1111.1,722.1 L1110.2,721.3 L1109.7,718.7 L1106.9,715.8 L1106.9,715.8 L1105.1,716.0 L1104.3,715.1 L1104.2,712.7 L1101.7,709.4 L1101.7,709.4 L1099.7,709.1 L1099.0,708.1 L1099.3,705.9 L1097.0,702.2 L1097.0,702.2 L1095.0,701.6 L1094.4,700.5 L1095.0,698.5 L1093.2,694.7 L1093.2,694.7 L1091.1,693.6 L1090.7,692.4 L1091.6,690.8 L1090.2,686.9 L1090.2,686.9 L1088.2,685.4 L1087.9,684.3 L1089.1,683.0 L1088.2,679.1 L1088.2,679.1 L1086.3,677.3 L1086.1,676.2 L1087.6,675.4 L1087.3,671.6 L1087.3,671.6 L1085.5,669.5 L1085.5,668.4 L1087.2,668.1 L1087.4,664.6 L1087.4,664.6 L1085.8,662.3 L1086.0,661.3 L1087.9,661.4 L1088.6,658.3 L1088.6,658.3 L1087.3,655.8 L1087.6,654.9 L1089.6,655.5 L1090.8,652.9 L1090.8,652.9 L1089.8,650.3 L1090.2,649.6 L1092.3,650.6 L1094.0,648.5 L1094.0,648.5 L1093.3,645.9 L1093.8,645.4 L1095.9,646.8 L1098.0,645.3 L1098.0,645.3 L1097.6,642.8 L1098.3,642.5 L1100.3,644.2 L1102.8,643.4 L1102.8,643.4 L1102.8,641.1 L1103.6,640.9 L1105.4,643.0 L1108.1,642.9 L1108.1,642.9 L1108.5,640.7 L1109.4,640.8 L1111.0,643.1 L1113.9,643.7 L1113.9,643.7 L1114.7,641.8 L1115.5,642.1 L1117.0,644.6 L1120.0,645.8 L1120.0,645.8 L1121.0,644.3 L1122.0,644.8 L1123.1,647.4 L1126.1,649.2 L1126.1,649.2 L1127.5,648.1 L1128.4,648.7 L1129.2,651.4 L1132.2,653.8 L1132.2,653.8 L1133.7,653.1 L1134.6,653.9 L1135.1,656.5 L1137.9,659.4 L1137.9,659.4 L1139.7,659.2 L1140.5,660.1 L1140.6,662.5 L1143.1,665.8 L1143.1,665.8 L1145.1,666.1 L1145.8,667.1 L1145.5,669.3 L1147.8,673.0 L1147.8,673.0 L1149.8,673.6 L1150.4,674.7 L1149.8,676.7 L1151.6,680.5 L1151.6,680.5 L1153.7,681.6 L1154.1,682.8 L1153.2,684.4 L1154.6,688.3 L1154.6,688.3 L1156.6,689.8 L1156.9,690.9 L1155.7,692.2 L1156.6,696.1 L1156.6,696.1 L1158.5,697.9 L1158.7,699.0 L1157.2,699.8 L1157.5,703.6 L1157.5,703.6 L1159.3,705.7 L1159.3,706.8 L1157.6,707.1 L1157.4,710.6 L1157.4,710.6 L1159.0,712.9 L1158.8,713.9 L1156.9,713.8 L1156.2,716.9 L1156.2,716.9 L1157.5,719.4 L1157.2,720.3 L1155.2,719.7 L1154.0,722.3 L1154.0,722.3 L1155.0,724.9 L1154.6,725.6 L1152.5,724.6 L1150.8,726.7 L1150.8,726.7 L1151.5,729.3 L1151.0,729.8 L1148.9,728.4 L1146.8,729.9 L1146.8,729.9 Z" fill="#fff" stroke="#000" stroke-width="1.5" stroke-linejoin="round" />
<ellipse cx="1122.40" cy="687.60" rx="44.40" ry="26.64" transform="rotate(60.0 1122.40 687.60)" fill="none" stroke="#000" stroke-width="1.0" />
<ellipse cx="1122.40" cy="687.60" rx="42.60" ry="25.56" transform="rotate(60.0 1122.40 687.60)" fill="none" stroke="#000" stroke-width="1.4" />
<ellipse cx="1178.50" cy="654.70" rx="49.40" ry="29.64" transform="rotate(60.0 1178.50 654.70)" fill="none" stroke="#000" stroke-width="1.3" />
<ellipse cx="1178.50" cy="654.70" rx="47.40" ry="28.44" transform="rotate(60.0 1178.50 654.70)" fill="none" stroke="#000" stroke-width="1.0" />
<path d="M1200.2,692.3 L1200.2,692.3 L1200.8,694.3 L1199.9,694.7 L1198.6,693.1 L1196.4,693.9 L1196.4,693.9 L1196.7,695.8 L1195.8,696.0 L1194.5,694.3 L1192.2,694.5 L1192.2,694.5 L1192.2,696.3 L1191.3,696.3 L1190.1,694.4 L1187.6,694.1 L1187.6,694.1 L1187.4,695.8 L1186.4,695.6 L1185.5,693.6 L1182.8,692.8 L1182.8,692.8 L1182.4,694.3 L1181.3,693.8 L1180.6,691.8 L1177.9,690.5 L1177.9,690.5 L1177.3,691.8 L1176.2,691.1 L1175.7,689.2 L1173.0,687.3 L1173.0,687.3 L1172.2,688.4 L1171.1,687.5 L1170.8,685.6 L1168.3,683.4 L1168.3,683.4 L1167.2,684.1 L1166.2,683.2 L1166.2,681.3 L1163.8,678.7 L1163.8,678.7 L1162.5,679.2 L1161.6,678.1 L1161.8,676.4 L1159.6,673.4 L1159.6,673.4 L1158.3,673.6 L1157.4,672.4 L1157.9,670.9 L1155.9,667.7 L1155.9,667.7 L1154.5,667.6 L1153.8,666.3 L1154.5,665.0 L1152.8,661.7 L1152.8,661.7 L1151.3,661.2 L1150.7,659.9 L1151.6,658.9 L1150.3,655.5 L1150.3,655.5 L1148.8,654.7 L1148.3,653.3 L1149.5,652.7 L1148.6,649.2 L1148.6,649.2 L1147.0,648.2 L1146.7,646.9 L1148.0,646.5 L1147.5,643.1 L1147.5,643.1 L1146.0,641.9 L1145.9,640.6 L1147.3,640.5 L1147.2,637.3 L1147.2,637.3 L1145.8,635.8 L1145.8,634.6 L1147.3,634.8 L1147.7,631.9 L1147.7,631.9 L1146.4,630.3 L1146.6,629.2 L1148.2,629.7 L1148.9,627.1 L1148.9,627.1 L1147.8,625.3 L1148.2,624.3 L1149.7,625.2 L1150.9,623.0 L1150.9,623.0 L1149.9,621.0 L1150.5,620.3 L1152.0,621.4 L1153.5,619.6 L1153.5,619.6 L1152.8,617.6 L1153.4,617.0 L1154.9,618.4 L1156.8,617.1 L1156.8,617.1 L1156.2,615.1 L1157.1,614.7 L1158.4,616.3 L1160.6,615.5 L1160.6,615.5 L1160.3,613.6 L1161.2,613.4 L1162.5,615.1 L1164.8,614.9 L1164.8,614.9 L1164.8,613.1 L1165.7,613.1 L1166.9,615.0 L1169.4,615.3 L1169.4,615.3 L1169.6,613.6 L1170.6,613.8 L1171.5,615.8 L1174.2,616.6 L1174.2,616.6 L1174.6,615.1 L1175.7,615.6 L1176.4,617.6 L1179.1,618.9 L1179.1,618.9 L1179.7,617.6 L1180.8,618.3 L1181.3,620.2 L1184.0,622.1 L1184.0,622.1 L1184.8,621.0 L1185.9,621.9 L1186.2,623.8 L1188.7,626.0 L1188.7,626.0 L1189.8,625.3 L1190.8,626.2 L1190.8,628.1 L1193.2,630.7 L1193.2,630.7 L1194.5,630.2 L1195.4,631.3 L1195.2,633.0 L1197.4,636.0 L1197.4,636.0 L1198.7,635.8 L1199.6,637.0 L1199.1,638.5 L1201.1,641.7 L1201.1,641.7 L1202.5,641.8 L1203.2,643.1 L1202.5,644.4 L1204.2,647.7 L1204.2,647.7 L1205.7,648.2 L1206.3,649.5 L1205.4,650.5 L1206.7,653.9 L1206.7,653.9 L1208.2,654.7 L1208.7,656.1 L1207.5,656.7 L1208.4,660.2 L1208.4,660.2 L1210.0,661.2 L1210.3,662.5 L1209.0,662.9 L1209.5,666.3 L1209.5,666.3 L1211.0,667.5 L1211.1,668.8 L1209.7,668.9 L1209.8,672.1 L1209.8,672.1 L1211.2,673.6 L1211.2,674.8 L1209.7,674.6 L1209.3,677.5 L1209.3,677.5 L1210.6,679.1 L1210.4,680.2 L1208.8,679.7 L1208.1,682.3 L1208.1,682.3 L1209.2,684.1 L1208.8,685.1 L1207.3,684.2 L1206.1,686.4 L1206.1,686.4 L1207.1,688.4 L1206.5,689.1 L1205.0,688.0 L1203.5,689.8 L1203.5,689.8 L1204.2,691.8 L1203.6,692.4 L1202.1,691.0 L1200.2,692.3 L1200.2,692.3 Z" fill="none" stroke="#000" stroke-width="1.5" stroke-linejoin="round" />
<line x1="1164.8" y1="614.9" x2="1162.9" y2="609.4" stroke="#000" stroke-width="1.3" />
<line x1="1147.2" y1="636.8" x2="1142.9" y2="634.4" stroke="#000" stroke-width="1.3" />
<line x1="1194.2" y1="694.3" x2="1196.4" y2="699.8" stroke="#000" stroke-width="1.3" />
<path d="M1212.8,577.5 L1213.8,576.9 L1214.9,576.4 L1216.0,576.0 L1217.2,575.7 L1218.3,575.4 L1219.5,575.2 L1220.8,575.0 L1222.0,575.0 L1223.3,575.0 L1224.6,575.0 L1225.9,575.2 L1227.3,575.4 L1228.6,575.7 L1230.0,576.0 L1231.4,576.4 L1232.8,576.9 L1234.2,577.5 L1235.6,578.1 L1237.0,578.8 L1238.4,579.5 L1239.8,580.4 L1241.2,581.2 L1242.6,582.2 L1244.0,583.2 L1245.4,584.2 L1246.8,585.3 L1248.1,586.5 L1249.5,587.7 L1250.8,589.0 L1252.1,590.3 L1253.4,591.7 L1254.6,593.1 L1255.9,594.5 L1257.1,596.0 L1258.2,597.5 L1259.4,599.1 L1260.5,600.7 L1261.5,602.3 L1262.6,604.0 L1263.6,605.7 L1264.5,607.4 L1265.5,609.1 L1266.3,610.8 L1267.2,612.6 L1267.9,614.4 L1268.7,616.1 L1269.4,617.9 L1270.0,619.7 L1270.6,621.5 L1271.1,623.3 L1271.6,625.1 L1272.1,626.9 L1272.4,628.6 L1272.8,630.4 L1273.1,632.1 L1273.3,633.9 L1273.4,635.6 L1273.6,637.2 L1273.6,638.9 L1273.6,640.5 L1273.6,642.1 L1273.4,643.7 L1273.3,645.2 L1273.1,646.7 L1272.8,648.2 L1272.5,649.6 L1272.1,650.9 L1271.6,652.2 L1271.2,653.5 L1270.6,654.7 L1270.0,655.9 L1269.4,657.0 L1268.7,658.1 L1268.0,659.0 L1267.2,660.0 L1266.3,660.9 L1265.5,661.7 L1264.6,662.4 L1263.6,663.1 L1262.6,663.7" fill="none" stroke="#000" stroke-width="0.9" />
<path d="M1260.2,664.0 L1260.2,664.0 L1260.6,666.5 L1259.9,666.8 L1257.9,665.1 L1255.4,665.9 L1255.4,665.9 L1255.4,668.2 L1254.6,668.4 L1252.8,666.3 L1250.1,666.4 L1250.1,666.4 L1249.7,668.6 L1248.8,668.5 L1247.2,666.2 L1244.3,665.6 L1244.3,665.6 L1243.5,667.5 L1242.7,667.2 L1241.2,664.7 L1238.2,663.5 L1238.2,663.5 L1237.2,665.0 L1236.2,664.5 L1235.1,661.9 L1232.1,660.1 L1232.1,660.1 L1230.7,661.2 L1229.8,660.6 L1229.0,657.9 L1226.0,655.5 L1226.0,655.5 L1224.5,656.2 L1223.6,655.4 L1223.1,652.8 L1220.3,649.9 L1220.3,649.9 L1218.5,650.1 L1217.7,649.2 L1217.6,646.8 L1215.1,643.5 L1215.1,643.5 L1213.1,643.2 L1212.4,642.2 L1212.7,640.0 L1210.4,636.3 L1210.4,636.3 L1208.4,635.7 L1207.8,634.6 L1208.4,632.6 L1206.6,628.8 L1206.6,628.8 L1204.5,627.7 L1204.1,626.5 L1205.0,624.9 L1203.6,621.0 L1203.6,621.0 L1201.6,619.5 L1201.3,618.4 L1202.5,617.1 L1201.6,613.2 L1201.6,613.2 L1199.7,611.4 L1199.5,610.3 L1201.0,609.5 L1200.7,605.7 L1200.7,605.7 L1198.9,603.6 L1198.9,602.5 L1200.6,602.2 L1200.8,598.7 L1200.8,598.7 L1199.2,596.4 L1199.4,595.4 L1201.3,595.5 L1202.0,592.4 L1202.0,592.4 L1200.7,589.9 L1201.0,589.0 L1203.0,589.6 L1204.2,587.0 L1204.2,587.0 L1203.2,584.4 L1203.6,583.7 L1205.7,584.7 L1207.4,582.6 L1207.4,582.6 L1206.7,580.0 L1207.2,579.5 L1209.3,580.9 L1211.4,579.4 L1211.4,579.4 L1211.0,576.9 L1211.7,576.6 L1213.7,578.3 L1216.2,577.5 L1216.2,577.5 L1216.2,575.2 L1217.0,575.0 L1218.8,577.1 L1221.5,577.0 L1221.5,577.0 L1221.9,574.8 L1222.8,574.9 L1224.4,577.2 L1227.3,577.8 L1227.3,577.8 L1228.1,575.9 L1228.9,576.2 L1230.4,578.7 L1233.4,579.9 L1233.4,579.9 L1234.4,578.4 L1235.4,578.9 L1236.5,581.5 L1239.5,583.3 L1239.5,583.3 L1240.9,582.2 L1241.8,582.8 L1242.6,585.5 L1245.6,587.9 L1245.6,587.9 L1247.1,587.2 L1248.0,588.0 L1248.5,590.6 L1251.3,593.5 L1251.3,593.5 L1253.1,593.3 L1253.9,594.2 L1254.0,596.6 L1256.5,599.9 L1256.5,599.9 L1258.5,600.2 L1259.2,601.2 L1258.9,603.4 L1261.2,607.1 L1261.2,607.1 L1263.2,607.7 L1263.8,608.8 L1263.2,610.8 L1265.0,614.6 L1265.0,614.6 L1267.1,615.7 L1267.5,616.9 L1266.6,618.5 L1268.0,622.4 L1268.0,622.4 L1270.0,623.9 L1270.3,625.0 L1269.1,626.3 L1270.0,630.2 L1270.0,630.2 L1271.9,632.0 L1272.1,633.1 L1270.6,633.9 L1270.9,637.7 L1270.9,637.7 L1272.7,639.8 L1272.7,640.9 L1271.0,641.2 L1270.8,644.7 L1270.8,644.7 L1272.4,647.0 L1272.2,648.0 L1270.3,647.9 L1269.6,651.0 L1269.6,651.0 L1270.9,653.5 L1270.6,654.4 L1268.6,653.8 L1267.4,656.4 L1267.4,656.4 L1268.4,659.0 L1268.0,659.7 L1265.9,658.7 L1264.2,660.8 L1264.2,660.8 L1264.9,663.4 L1264.4,663.9 L1262.3,662.5 L1260.2,664.0 L1260.2,664.0 Z" fill="#fff" stroke="#000" stroke-width="1.5" stroke-linejoin="round" />
<ellipse cx="1235.80" cy="621.70" rx="44.40" ry="26.64" transform="rotate(60.0 1235.80 621.70)" fill="none" stroke="#000" stroke-width="1.0" />
<ellipse cx="1235.80" cy="621.70" rx="42.60" ry="25.56" transform="rotate(60.0 1235.80 621.70)" fill="none" stroke="#000" stroke-width="1.4" />
<path d="M1305.2,549.1 L1307.1,550.7 L1308.8,552.3 L1310.6,554.0 L1312.3,555.8 L1314.0,557.6 L1315.6,559.6 L1317.2,561.6 L1318.7,563.6 L1320.2,565.7 L1321.6,567.9 L1323.0,570.1 L1324.3,572.4 L1325.5,574.6 L1326.6,577.0 L1327.7,579.3 L1328.7,581.6 L1329.6,584.0 L1330.5,586.4 L1331.3,588.8 L1331.9,591.1 L1332.5,593.5 L1333.0,595.9 L1333.5,598.2 L1333.8,600.5 L1334.0,602.7 L1334.2,605.0 L1334.2,607.2 L1334.2,609.3 L1334.1,611.4 L1333.8,613.4 L1333.5,615.4 L1333.1,617.3 L1332.6,619.1 L1332.1,620.8 L1331.4,622.5 L1330.6,624.1 L1329.8,625.6 L1328.9,627.0 L1327.9,628.3 L1326.8,629.5 L1325.7,630.6 L1324.5,631.6 L1323.2,632.5 L1321.9,633.3 L1320.5,633.9 L1319.0,634.5 L1317.5,634.9 L1315.9,635.3 L1314.3,635.5 L1312.6,635.6 L1310.9,635.6 L1309.2,635.4 L1307.4,635.2 L1305.6,634.8 L1303.8,634.3 L1301.9,633.7 L1300.1,633.0 L1298.2,632.2 L1296.3,631.3 L1294.5,630.2 L1292.6,629.1 L1290.7,627.9 L1288.9,626.5 L1287.1,625.1 L1285.3,623.6 L1283.5,622.0 L1281.7,620.3 L1280.0,618.5 L1278.3,616.7 L1276.7,614.8 L1275.1,612.8 L1273.6,610.7 L1272.1,608.6 L1270.6,606.5 L1269.3,604.3 L1268.0,602.0 L1266.7,599.8 L1265.6,597.4 L1264.5,595.1 L1263.4,592.8 L1262.5,590.4 L1261.6,588.0 L1260.9,585.6 L1260.2,583.3 L1259.6,580.9 L1259.0,578.5 L1258.6,576.2 L1258.3,573.9 L1258.0,571.6 L1257.9,569.4 L1257.8,567.2 L1257.8,565.1 L1257.9,563.0 L1258.1,560.9 L1258.4,559.0 L1258.8,557.0 L1259.3,555.2 L1259.8,553.5 L1260.5,551.8 L1261.2,550.2 L1262.0,548.7 L1262.9,547.3 L1263.9,545.9 L1265.0,544.7 L1266.1,543.6 L1267.3,542.6 L1268.6,541.7 L1269.9,540.9 L1271.3,540.2 L1272.8,539.6 L1274.3,539.1 L1275.8,538.8 L1277.5,538.6 L1279.1,538.4 L1280.8,538.4 L1282.5,538.6 L1284.3,538.8 L1286.1,539.1 L1287.9,539.6 L1289.8,540.2" fill="none" stroke="#000" stroke-width="4.4" stroke-linecap="round"/>
<path d="M1305.2,549.1 L1307.1,550.7 L1308.8,552.3 L1310.6,554.0 L1312.3,555.8 L1314.0,557.6 L1315.6,559.6 L1317.2,561.6 L1318.7,563.6 L1320.2,565.7 L1321.6,567.9 L1323.0,570.1 L1324.3,572.4 L1325.5,574.6 L1326.6,577.0 L1327.7,579.3 L1328.7,581.6 L1329.6,584.0 L1330.5,586.4 L1331.3,588.8 L1331.9,591.1 L1332.5,593.5 L1333.0,595.9 L1333.5,598.2 L1333.8,600.5 L1334.0,602.7 L1334.2,605.0 L1334.2,607.2 L1334.2,609.3 L1334.1,611.4 L1333.8,613.4 L1333.5,615.4 L1333.1,617.3 L1332.6,619.1 L1332.1,620.8 L1331.4,622.5 L1330.6,624.1 L1329.8,625.6 L1328.9,627.0 L1327.9,628.3 L1326.8,629.5 L1325.7,630.6 L1324.5,631.6 L1323.2,632.5 L1321.9,633.3 L1320.5,633.9 L1319.0,634.5 L1317.5,634.9 L1315.9,635.3 L1314.3,635.5 L1312.6,635.6 L1310.9,635.6 L1309.2,635.4 L1307.4,635.2 L1305.6,634.8 L1303.8,634.3 L1301.9,633.7 L1300.1,633.0 L1298.2,632.2 L1296.3,631.3 L1294.5,630.2 L1292.6,629.1 L1290.7,627.9 L1288.9,626.5 L1287.1,625.1 L1285.3,623.6 L1283.5,622.0 L1281.7,620.3 L1280.0,618.5 L1278.3,616.7 L1276.7,614.8 L1275.1,612.8 L1273.6,610.7 L1272.1,608.6 L1270.6,606.5 L1269.3,604.3 L1268.0,602.0 L1266.7,599.8 L1265.6,597.4 L1264.5,595.1 L1263.4,592.8 L1262.5,590.4 L1261.6,588.0 L1260.9,585.6 L1260.2,583.3 L1259.6,580.9 L1259.0,578.5 L1258.6,576.2 L1258.3,573.9 L1258.0,571.6 L1257.9,569.4 L1257.8,567.2 L1257.8,565.1 L1257.9,563.0 L1258.1,560.9 L1258.4,559.0 L1258.8,557.0 L1259.3,555.2 L1259.8,553.5 L1260.5,551.8 L1261.2,550.2 L1262.0,548.7 L1262.9,547.3 L1263.9,545.9 L1265.0,544.7 L1266.1,543.6 L1267.3,542.6 L1268.6,541.7 L1269.9,540.9 L1271.3,540.2 L1272.8,539.6 L1274.3,539.1 L1275.8,538.8 L1277.5,538.6 L1279.1,538.4 L1280.8,538.4 L1282.5,538.6 L1284.3,538.8 L1286.1,539.1 L1287.9,539.6 L1289.8,540.2" fill="none" stroke="#fff" stroke-width="2.0000000000000004" stroke-linecap="round"/>
<ellipse cx="148.30" cy="631.20" rx="29.50" ry="17.70" transform="rotate(60.0 148.30 631.20)" fill="#fff" stroke="#000" stroke-width="1.3" />
<ellipse cx="145.70" cy="632.70" rx="29.50" ry="17.70" transform="rotate(60.0 145.70 632.70)" fill="#fff" stroke="#000" stroke-width="1.5" />
<ellipse cx="145.70" cy="632.70" rx="27.50" ry="16.50" transform="rotate(60.0 145.70 632.70)" fill="none" stroke="#000" stroke-width="1.0" />
<path d="M134.1,615.7 L134.4,615.6 L134.7,615.4 L135.0,615.3 L135.3,615.2 L135.6,615.1 L135.0,613.1 L135.3,613.0 L135.7,612.9 L136.1,612.9 L136.4,612.8 L136.8,612.8 L137.2,612.8 L137.6,612.8 L137.9,612.8 L138.3,612.8 L138.7,612.8 L139.1,612.9 L139.5,613.0 L139.9,613.0 L140.3,613.1 L140.7,613.2 L141.2,613.4 L141.6,613.5 L142.0,613.6 L142.4,613.8 L142.8,614.0 L143.2,614.2 L143.7,614.4 L144.1,616.3 L144.5,616.5 L144.9,616.8 L145.2,617.0 L145.6,617.2 L146.0,617.5 L146.4,617.7 L146.8,618.0 L147.1,618.3 L147.5,618.6 L147.9,618.9 L148.2,619.2 L148.6,619.5 L149.0,619.9 L149.3,620.2 L149.7,620.5 L150.0,620.9 L150.4,621.3 L150.7,621.6 L151.1,622.0 L151.4,622.4 L151.7,622.8 L152.0,623.2 L152.4,623.6 L152.7,624.1 L153.0,624.5 L153.3,624.9 L153.6,625.3 L153.9,625.8 L154.2,626.2 L154.4,626.7 L154.7,627.1 L155.0,627.6 L155.2,628.1 L155.5,628.5 L155.7,629.0 L155.9,629.5 L156.1,630.0 L156.4,630.4 L156.6,630.9 L156.8,631.4 L157.0,631.9 L157.1,632.4 L157.3,632.8 L157.5,633.3 L157.6,633.8 L157.8,634.3 L157.9,634.8 L158.0,635.3 L158.1,635.7 L158.2,636.2 L158.3,636.7 L158.4,637.2 L158.5,637.6 L158.6,638.1 L158.6,638.6 L158.7,639.0 L158.7,639.5 L158.7,640.0 L158.8,640.4 L158.8,640.8 L158.8,641.3 L158.8,641.7 L158.7,642.1 L158.7,642.6 L158.7,643.0 L158.6,643.4 L158.5,643.8 L158.5,644.2 L158.4,644.6 L158.3,644.9 L158.2,645.3 L158.1,645.7 L158.0,646.0 L157.8,646.4 L157.7,646.7 L157.5,647.0 L157.4,647.4 L157.2,647.7 L157.0,648.0 L156.9,648.3 L156.7,648.5 L156.5,648.8 L156.3,649.1 L156.0,649.3 L155.8,649.5 L155.6,649.8 L155.3,650.0 L155.1,650.2 L154.8,650.4 L154.6,650.5 L154.3,650.7 L155.0,652.7 L154.7,652.8 L154.4,653.0 L154.1,653.1 L153.7,653.2 L153.4,653.3 L153.1,653.4 L152.7,653.5 L152.3,653.5 L152.0,653.6 L151.6,653.6 L151.2,653.6 L150.8,653.6 L150.5,653.6 L150.1,653.6 L149.7,653.6 L149.3,653.5 L148.9,653.4 L148.5,653.4 L148.1,653.3 L147.7,653.2 L147.2,653.0 L146.6,651.0 L146.2,650.9 L145.8,650.8 L145.4,650.6 L145.1,650.4 L144.7,650.3 L144.3,650.1 L143.9,649.9 L143.5,649.6 L143.2,649.4 L142.8,649.2 L142.4,648.9 L142.0,648.7 L141.6,648.4 L141.3,648.1 L140.9,647.8 L140.5,647.5 L140.2,647.2 L139.8,646.9 L139.4,646.5 L139.1,646.2 L138.7,645.9 L138.4,645.5 L138.0,645.1 L137.7,644.8 L137.3,644.4 L137.0,644.0 L136.7,643.6 L136.4,643.2 L136.0,642.8 L135.7,642.3 L135.4,641.9 L135.1,641.5 L134.8,641.1 L134.5,640.6 L134.2,640.2 L134.0,639.7 L133.7,639.3 L133.4,638.8 L133.2,638.3 L132.9,637.9 L132.7,637.4 L132.5,636.9 L132.3,636.4 L132.0,636.0 L131.8,635.5 L131.6,635.0 L131.4,634.5 L131.3,634.0 L131.1,633.6 L130.9,633.1 L130.8,632.6 L130.6,632.1 L130.5,631.6 L130.4,631.1 L130.3,630.7 L130.2,630.2 L130.1,629.7 L130.0,629.2 L129.9,628.8 L129.8,628.3 L129.8,627.8 L129.7,627.4 L129.7,626.9 L129.7,626.4 L129.6,626.0 L129.6,625.6 L129.6,625.1 L129.6,624.7 L129.7,624.3 L129.7,623.8 L129.7,623.4 L129.8,623.0 L129.9,622.6 L129.9,622.2 L130.0,621.8 L130.1,621.5 L130.2,621.1 L130.3,620.7 L130.4,620.4 L130.6,620.0 L130.7,619.7 L130.9,619.4 L131.0,619.0 L131.2,618.7 L131.4,618.4 L131.5,618.1 L131.7,617.9 L131.9,617.6 L132.1,617.3 L132.4,617.1 L132.6,616.9 L132.8,616.6 L133.1,616.4 L133.3,616.2 L133.6,616.0 L133.8,615.9 L134.1,615.7 Z" fill="none" stroke="#000" stroke-width="1.4" stroke-linejoin="round" />
<path d="M137.1,643.1 L136.8,642.7 L136.5,642.3 L136.2,641.9 L135.9,641.5 L135.6,641.1 L135.3,640.7 L135.1,640.3 L134.8,639.9 L134.6,639.5 L134.3,639.1 L134.1,638.6 L133.8,638.2 L133.6,637.8 L133.4,637.3 L133.2,636.9 L133.0,636.5 L132.8,636.0 L132.6,635.6 L132.4,635.1 L132.3,634.7 L132.1,634.2 L131.9,633.8 L131.8,633.3 L131.7,632.9 L131.5,632.4 L131.4,632.0 L131.3,631.6 L131.2,631.1 L131.1,630.7 L131.1,630.2 L131.0,629.8 L130.9,629.4 L130.9,628.9 L130.8,628.5 L130.8,628.1 L130.8,627.7 L130.8,627.2 L130.8,626.8 L130.8,626.4 L130.8,626.0 L130.8,625.6 L130.9,625.3 L130.9,624.9 L131.0,624.5 L131.0,624.1 L131.1,623.8 L131.2,623.4 L131.3,623.1 L131.4,622.8 L131.5,622.4 L131.6,622.1 L131.7,621.8 L131.9,621.5 L132.0,621.2 L132.2,620.9 L132.4,620.7 L132.5,620.4 L132.7,620.2 L132.9,619.9 L133.1,619.7 L133.3,619.5 L133.5,619.3 L133.7,619.1 L134.0,618.9 L134.2,618.7 L134.5,618.5 L134.7,618.4 L135.0,618.2 L135.2,618.1 L135.5,618.0 L135.8,617.9 L136.1,617.8 L136.3,617.7 L136.6,617.6 L136.9,617.6 L137.2,617.5 L137.6,617.5 L137.9,617.5 L138.2,617.5 L138.5,617.5" fill="none" stroke="#000" stroke-width="1.0" />
<line x1="271.0" y1="495.4" x2="309.1" y2="473.4" stroke="#000" stroke-width="1.2" />
<line x1="326.0" y1="590.6" x2="364.1" y2="568.6" stroke="#000" stroke-width="1.2" />
<path d="M309.1,473.4 L310.2,472.8 L311.4,472.2 L312.7,471.8 L313.9,471.4 L315.2,471.1 L316.5,470.8 L317.9,470.7 L319.3,470.6 L320.7,470.6 L322.1,470.7 L323.6,470.8 L325.1,471.1 L326.6,471.4 L328.1,471.8 L329.6,472.2 L331.2,472.8 L332.7,473.4 L334.3,474.1 L335.8,474.8 L337.4,475.7 L338.9,476.6 L340.5,477.5 L342.0,478.6 L343.6,479.7 L345.1,480.8 L346.6,482.0 L348.1,483.3 L349.6,484.7 L351.0,486.1 L352.5,487.5 L353.9,489.0 L355.3,490.6 L356.6,492.2 L358.0,493.8 L359.3,495.5 L360.5,497.3 L361.8,499.0 L362.9,500.8 L364.1,502.6 L365.2,504.5 L366.2,506.4 L367.3,508.3 L368.2,510.2 L369.1,512.2 L370.0,514.1 L370.8,516.1 L371.6,518.0 L372.3,520.0 L372.9,522.0 L373.5,524.0 L374.1,526.0 L374.6,527.9 L375.0,529.9 L375.3,531.8 L375.6,533.7 L375.9,535.6 L376.1,537.5 L376.2,539.4 L376.3,541.2 L376.3,543.0 L376.2,544.8 L376.1,546.5 L375.9,548.2 L375.7,549.8 L375.3,551.4 L375.0,553.0 L374.6,554.5 L374.1,555.9 L373.5,557.3 L372.9,558.7 L372.3,560.0 L371.6,561.2 L370.8,562.4 L370.0,563.5 L369.2,564.5 L368.2,565.5 L367.3,566.4 L366.3,567.2 L365.2,567.9 L364.1,568.6" fill="none" stroke="#000" stroke-width="1.5" />
<path d="M311.3,472.9 L312.5,472.6 L313.8,472.4 L315.0,472.2 L316.3,472.1 L317.6,472.1 L319.0,472.1 L320.3,472.3 L321.7,472.4 L323.1,472.7 L324.5,473.0 L325.9,473.4 L327.3,473.8 L328.8,474.4 L330.2,474.9 L331.7,475.6 L333.1,476.3 L334.6,477.0 L336.0,477.9 L337.5,478.8 L338.9,479.7 L340.4,480.7 L341.8,481.8 L343.2,482.9 L344.6,484.1 L346.0,485.3 L347.4,486.6 L348.8,487.9 L350.1,489.3 L351.4,490.7 L352.7,492.1 L354.0,493.6 L355.2,495.2 L356.4,496.7 L357.6,498.3 L358.8,500.0 L359.9,501.6 L361.0,503.3 L362.0,505.1 L363.0,506.8 L364.0,508.6 L364.9,510.4 L365.8,512.2 L366.7,514.0 L367.5,515.8 L368.2,517.6 L369.0,519.5 L369.6,521.3 L370.2,523.2 L370.8,525.0 L371.3,526.9 L371.8,528.7 L372.2,530.5 L372.6,532.4 L372.9,534.2 L373.1,536.0 L373.4,537.7 L373.5,539.5 L373.6,541.2 L373.7,542.9 L373.7,544.6 L373.6,546.2 L373.5,547.9 L373.3,549.4 L373.1,551.0 L372.8,552.5 L372.5,554.0 L372.1,555.4 L371.7,556.8 L371.2,558.1 L370.7,559.4 L370.1,560.6 L369.5,561.8 L368.9,562.9 L368.1,564.0 L367.4,565.0 L366.6,566.0 L365.7,566.9 L364.8,567.7 L363.9,568.5 L362.9,569.2" fill="none" stroke="#000" stroke-width="1.0" />
<path d="M315.0,473.1 L316.2,473.1 L317.4,473.2 L318.7,473.3 L320.0,473.4 L321.3,473.7 L322.6,474.0 L323.9,474.3 L325.2,474.7 L326.5,475.2 L327.9,475.7 L329.2,476.2 L330.6,476.9 L331.9,477.6 L333.3,478.3 L334.6,479.1 L336.0,479.9 L337.3,480.8 L338.7,481.7 L340.0,482.7 L341.3,483.8 L342.6,484.8 L343.9,486.0 L345.2,487.1 L346.5,488.3 L347.7,489.6 L349.0,490.9 L350.2,492.2 L351.4,493.6 L352.6,495.0 L353.7,496.4 L354.8,497.9 L355.9,499.4 L357.0,500.9 L358.0,502.4 L359.1,504.0 L360.0,505.6 L361.0,507.2 L361.9,508.9 L362.8,510.5 L363.6,512.2 L364.4,513.9 L365.2,515.6 L365.9,517.3 L366.6,519.0 L367.3,520.7 L367.9,522.4 L368.5,524.1 L369.0,525.8 L369.5,527.6 L369.9,529.3 L370.3,531.0 L370.7,532.7 L371.0,534.3 L371.3,536.0 L371.5,537.7 L371.7,539.3 L371.8,540.9 L371.9,542.5 L371.9,544.1 L371.9,545.7 L371.9,547.2 L371.8,548.7 L371.6,550.2 L371.4,551.6 L371.2,553.0 L370.9,554.4 L370.6,555.7 L370.2,557.0 L369.8,558.3 L369.3,559.5 L368.8,560.7 L368.3,561.9 L367.7,562.9 L367.1,564.0 L366.4,565.0 L365.7,565.9 L365.0,566.8 L364.2,567.7 L363.3,568.5 L362.5,569.2" fill="none" stroke="#000" stroke-width="0.8" />
<path d="M325.7,593.6 L325.7,593.6 L326.1,596.5 L325.5,596.7 L323.3,594.6 L320.8,595.2 L320.8,595.2 L320.7,598.0 L320.2,598.0 L318.1,595.6 L315.3,595.7 L315.3,595.7 L314.9,598.2 L314.3,598.2 L312.4,595.5 L309.5,595.0 L309.5,595.0 L308.7,597.2 L308.1,597.0 L306.4,594.2 L303.4,593.1 L303.4,593.1 L302.3,595.0 L301.7,594.7 L300.3,591.7 L297.2,590.1 L297.2,590.1 L295.8,591.6 L295.2,591.2 L294.1,588.2 L291.0,586.1 L291.0,586.1 L289.4,587.2 L288.7,586.7 L288.0,583.7 L285.0,581.1 L285.0,581.1 L283.1,581.8 L282.5,581.2 L282.1,578.2 L279.3,575.2 L279.3,575.2 L277.3,575.5 L276.7,574.8 L276.6,572.0 L274.1,568.6 L274.1,568.6 L271.8,568.4 L271.3,567.7 L271.6,565.1 L269.3,561.5 L269.3,561.5 L267.0,560.8 L266.6,560.0 L267.2,557.7 L265.3,553.9 L265.3,553.9 L262.9,552.8 L262.5,552.0 L263.5,550.0 L261.9,546.1 L261.9,546.1 L259.6,544.6 L259.3,543.8 L260.6,542.2 L259.4,538.2 L259.4,538.2 L257.1,536.4 L256.9,535.5 L258.5,534.3 L257.8,530.5 L257.8,530.5 L255.6,528.3 L255.5,527.5 L257.3,526.7 L257.1,523.0 L257.1,523.0 L255.0,520.5 L255.0,519.7 L257.1,519.4 L257.3,515.9 L257.3,515.9 L255.4,513.2 L255.5,512.5 L257.7,512.6 L258.4,509.5 L258.4,509.5 L256.8,506.6 L257.0,506.0 L259.3,506.6 L260.4,503.8 L260.4,503.8 L259.1,500.8 L259.4,500.3 L261.7,501.3 L263.3,499.0 L263.3,499.0 L262.3,496.0 L262.6,495.5 L265.0,497.0 L266.9,495.2 L266.9,495.2 L266.2,492.2 L266.7,491.8 L269.0,493.6 L271.3,492.4 L271.3,492.4 L270.9,489.5 L271.5,489.3 L273.7,491.4 L276.2,490.8 L276.2,490.8 L276.3,488.0 L276.8,488.0 L278.9,490.4 L281.7,490.3 L281.7,490.3 L282.1,487.8 L282.7,487.8 L284.6,490.5 L287.5,491.0 L287.5,491.0 L288.3,488.8 L288.9,489.0 L290.6,491.8 L293.6,492.9 L293.6,492.9 L294.7,491.0 L295.3,491.3 L296.7,494.3 L299.8,495.9 L299.8,495.9 L301.2,494.4 L301.8,494.8 L302.9,497.8 L306.0,499.9 L306.0,499.9 L307.6,498.8 L308.3,499.3 L309.0,502.3 L312.0,504.9 L312.0,504.9 L313.9,504.2 L314.5,504.8 L314.9,507.8 L317.7,510.8 L317.7,510.8 L319.7,510.5 L320.3,511.2 L320.4,514.0 L322.9,517.4 L322.9,517.4 L325.2,517.6 L325.7,518.3 L325.4,520.9 L327.7,524.5 L327.7,524.5 L330.0,525.2 L330.4,526.0 L329.8,528.3 L331.7,532.1 L331.7,532.1 L334.1,533.2 L334.5,534.0 L333.5,536.0 L335.1,539.9 L335.1,539.9 L337.4,541.4 L337.7,542.2 L336.4,543.8 L337.6,547.8 L337.6,547.8 L339.9,549.6 L340.1,550.5 L338.5,551.7 L339.2,555.5 L339.2,555.5 L341.4,557.7 L341.5,558.5 L339.7,559.3 L339.9,563.0 L339.9,563.0 L342.0,565.5 L342.0,566.3 L339.9,566.6 L339.7,570.1 L339.7,570.1 L341.6,572.8 L341.5,573.5 L339.3,573.4 L338.6,576.5 L338.6,576.5 L340.2,579.4 L340.0,580.0 L337.7,579.4 L336.6,582.2 L336.6,582.2 L337.9,585.2 L337.6,585.7 L335.3,584.7 L333.7,587.0 L333.7,587.0 L334.7,590.0 L334.4,590.5 L332.0,589.0 L330.1,590.8 L330.1,590.8 L330.8,593.8 L330.3,594.2 L328.0,592.4 Z" fill="#fff" stroke="#000" stroke-width="1.2" stroke-linejoin="round" />
<path d="M278.2,497.3 L287.7,491.8 L291.1,491.3 L281.6,496.8 Z" fill="#fff" stroke="#000" stroke-width="1.3" stroke-linejoin="round" />
<path d="M283.7,496.7 L293.3,491.2 L297.0,491.6 L287.4,497.1 Z" fill="#fff" stroke="#000" stroke-width="1.3" stroke-linejoin="round" />
<path d="M289.8,497.6 L299.3,492.1 L303.1,493.3 L293.6,498.8 Z" fill="#fff" stroke="#000" stroke-width="1.3" stroke-linejoin="round" />
<path d="M296.0,499.8 L305.6,494.3 L309.5,496.3 L300.0,501.8 Z" fill="#fff" stroke="#000" stroke-width="1.3" stroke-linejoin="round" />
<path d="M302.4,503.3 L311.9,497.8 L315.8,500.6 L306.3,506.1 Z" fill="#fff" stroke="#000" stroke-width="1.3" stroke-linejoin="round" />
<path d="M308.6,508.0 L318.1,502.5 L321.8,506.0 L312.3,511.5 Z" fill="#fff" stroke="#000" stroke-width="1.3" stroke-linejoin="round" />
<path d="M314.5,513.8 L324.0,508.3 L327.5,512.4 L318.0,517.9 Z" fill="#fff" stroke="#000" stroke-width="1.3" stroke-linejoin="round" />
<path d="M320.0,520.5 L329.5,515.0 L332.5,519.5 L323.0,525.0 Z" fill="#fff" stroke="#000" stroke-width="1.3" stroke-linejoin="round" />
<path d="M324.7,527.9 L334.3,522.4 L336.8,527.2 L327.3,532.7 Z" fill="#fff" stroke="#000" stroke-width="1.3" stroke-linejoin="round" />
<path d="M328.7,535.7 L338.3,530.2 L340.3,535.2 L330.7,540.7 Z" fill="#fff" stroke="#000" stroke-width="1.3" stroke-linejoin="round" />
<path d="M331.8,543.7 L341.3,538.2 L342.7,543.2 L333.2,548.7 Z" fill="#fff" stroke="#000" stroke-width="1.3" stroke-linejoin="round" />
<path d="M333.9,551.7 L343.4,546.2 L344.1,551.1 L334.6,556.6 Z" fill="#fff" stroke="#000" stroke-width="1.3" stroke-linejoin="round" />
<path d="M334.8,559.5 L344.4,554.0 L344.4,558.6 L334.9,564.1 Z" fill="#fff" stroke="#000" stroke-width="1.3" stroke-linejoin="round" />
<path d="M334.7,566.8 L344.2,561.3 L343.6,565.4 L334.1,570.9 Z" fill="#fff" stroke="#000" stroke-width="1.3" stroke-linejoin="round" />
<path d="M333.5,573.3 L343.0,567.8 L341.7,571.4 L332.2,576.9 Z" fill="#fff" stroke="#000" stroke-width="1.3" stroke-linejoin="round" />
<path d="M331.2,578.9 L340.7,573.4 L338.8,576.4 L329.3,581.9 Z" fill="#fff" stroke="#000" stroke-width="1.3" stroke-linejoin="round" />
<path d="M327.9,583.4 L337.4,577.9 L335.0,580.1 L325.4,585.6 Z" fill="#fff" stroke="#000" stroke-width="1.3" stroke-linejoin="round" />
<ellipse cx="293.00" cy="545.00" rx="35.50" ry="21.30" transform="rotate(60.0 293.00 545.00)" fill="none" stroke="#000" stroke-width="2.2" />
<ellipse cx="292.50" cy="546.00" rx="21.20" ry="12.72" transform="rotate(60.0 292.50 546.00)" fill="none" stroke="#000" stroke-width="1.1" />
<line x1="276.4" y1="557.6" x2="281.8" y2="554.5" stroke="#000" stroke-width="1" />
<ellipse cx="397.20" cy="486.00" rx="48.00" ry="28.80" transform="rotate(60.0 397.20 486.00)" fill="none" stroke="#000" stroke-width="1.6" />
<ellipse cx="398.20" cy="485.50" rx="45.80" ry="27.48" transform="rotate(60.0 398.20 485.50)" fill="none" stroke="#000" stroke-width="1.1" />
<path d="M454.5,398.2 L455.4,397.7 L456.4,397.2 L457.4,396.8 L458.5,396.5 L459.6,396.2 L460.7,396.0 L461.8,395.9 L463.0,395.8 L464.2,395.8 L465.4,395.9 L466.6,396.0 L467.8,396.2 L469.1,396.5 L470.4,396.8 L471.6,397.2 L472.9,397.7 L474.2,398.2 L475.5,398.7 L476.8,399.4 L478.1,400.1 L479.4,400.8 L480.7,401.6 L482.0,402.5 L483.3,403.4 L484.6,404.4 L485.8,405.4 L487.1,406.5 L488.3,407.6 L489.6,408.8 L490.8,410.0 L491.9,411.3 L493.1,412.6 L494.2,413.9 L495.4,415.3 L496.4,416.7 L497.5,418.1 L498.5,419.6 L499.5,421.1 L500.5,422.6 L501.4,424.2 L502.3,425.8 L503.1,427.4 L503.9,429.0 L504.7,430.6 L505.4,432.2 L506.1,433.9 L506.7,435.5 L507.3,437.2 L507.9,438.8 L508.4,440.5 L508.8,442.1 L509.2,443.8 L509.6,445.4 L509.9,447.0 L510.1,448.7 L510.3,450.3 L510.5,451.8 L510.6,453.4 L510.6,454.9 L510.6,456.4 L510.6,457.9 L510.5,459.3 L510.3,460.7 L510.1,462.1 L509.9,463.5 L509.6,464.8 L509.2,466.0 L508.8,467.2 L508.4,468.4 L507.9,469.5 L507.3,470.6 L506.7,471.6 L506.1,472.6 L505.4,473.5 L504.7,474.4 L503.9,475.2 L503.1,475.9 L502.3,476.6 L501.4,477.3 L500.5,477.8" fill="none" stroke="#000" stroke-width="1.2" />
<path d="M439.6,404.8 L440.4,404.8 L441.3,404.9 L442.1,405.0 L442.9,405.1 L443.8,405.3 L444.6,405.4 L468.0,391.9 L467.2,391.8 L466.3,391.6 L465.5,391.5 L464.7,391.4 L463.8,391.3 L463.0,391.3 Z" fill="#fff" stroke="#000" stroke-width="1.4" stroke-linejoin="round" />
<path d="M448.9,406.7 L449.7,407.0 L450.6,407.4 L451.5,407.8 L452.4,408.2 L453.3,408.6 L454.2,409.1 L477.5,395.6 L476.7,395.1 L475.8,394.7 L474.9,394.3 L474.0,393.9 L473.1,393.5 L472.3,393.2 Z" fill="#fff" stroke="#000" stroke-width="1.4" stroke-linejoin="round" />
<path d="M458.5,411.7 L459.3,412.3 L460.2,412.9 L461.1,413.6 L462.0,414.2 L462.8,414.9 L463.7,415.6 L487.0,402.1 L486.2,401.4 L485.3,400.7 L484.5,400.1 L483.6,399.4 L482.7,398.8 L481.9,398.2 Z" fill="#fff" stroke="#000" stroke-width="1.4" stroke-linejoin="round" />
<path d="M467.8,419.4 L468.6,420.2 L469.4,421.1 L470.2,421.9 L471.0,422.8 L471.8,423.7 L472.5,424.6 L495.9,411.1 L495.1,410.2 L494.4,409.3 L493.6,408.4 L492.8,407.6 L492.0,406.7 L491.2,405.9 Z" fill="#fff" stroke="#000" stroke-width="1.4" stroke-linejoin="round" />
<path d="M476.1,429.3 L476.8,430.3 L477.5,431.3 L478.2,432.3 L478.9,433.3 L479.5,434.4 L480.1,435.4 L503.5,421.9 L502.9,420.9 L502.2,419.8 L501.6,418.8 L500.9,417.8 L500.2,416.8 L499.5,415.8 Z" fill="#fff" stroke="#000" stroke-width="1.4" stroke-linejoin="round" />
<path d="M483.0,440.7 L483.5,441.8 L484.1,442.9 L484.6,444.0 L485.1,445.1 L485.5,446.2 L486.0,447.3 L509.4,433.8 L508.9,432.7 L508.4,431.6 L508.0,430.5 L507.5,429.4 L506.9,428.3 L506.4,427.2 Z" fill="#fff" stroke="#000" stroke-width="1.4" stroke-linejoin="round" />
<path d="M487.9,452.8 L488.2,453.9 L488.6,455.1 L488.9,456.2 L489.1,457.3 L489.4,458.4 L489.6,459.5 L513.0,446.0 L512.8,444.9 L512.5,443.8 L512.2,442.7 L511.9,441.6 L511.6,440.4 L511.3,439.3 Z" fill="#fff" stroke="#000" stroke-width="1.4" stroke-linejoin="round" />
<path d="M490.5,464.9 L490.6,465.9 L490.7,467.0 L490.8,468.1 L490.8,469.1 L490.9,470.1 L490.9,471.2 L514.3,457.7 L514.2,456.6 L514.2,455.6 L514.2,454.6 L514.1,453.5 L514.0,452.4 L513.9,451.4 Z" fill="#fff" stroke="#000" stroke-width="1.4" stroke-linejoin="round" />
<path d="M490.6,476.0 L490.5,477.0 L490.4,477.9 L490.2,478.8 L490.0,479.7 L489.8,480.6 L489.6,481.5 L513.0,468.0 L513.2,467.1 L513.4,466.2 L513.6,465.3 L513.7,464.4 L513.9,463.5 L514.0,462.5 Z" fill="#fff" stroke="#000" stroke-width="1.4" stroke-linejoin="round" />
<path d="M488.2,485.5 L487.9,486.2 L487.5,487.0 L487.2,487.7 L486.8,488.4 L486.4,489.1 L485.9,489.7 L509.3,476.2 L509.7,475.6 L510.2,474.9 L510.5,474.2 L510.9,473.5 L511.3,472.7 L511.6,472.0 Z" fill="#fff" stroke="#000" stroke-width="1.4" stroke-linejoin="round" />
<path d="M483.5,492.6 L483.1,493.0 L482.7,493.4 L482.3,493.8 L481.8,494.2 L481.4,494.5 L480.9,494.8 L504.3,481.3 L504.7,481.0 L505.2,480.7 L505.6,480.3 L506.1,479.9 L506.5,479.5 L506.9,479.1 Z" fill="#fff" stroke="#000" stroke-width="1.4" stroke-linejoin="round" />
<line x1="444.4" y1="404.1" x2="465.2" y2="392.1" stroke="#000" stroke-width="1.0" />
<line x1="453.9" y1="407.1" x2="474.7" y2="395.1" stroke="#000" stroke-width="1.0" />
<line x1="463.4" y1="413.0" x2="484.2" y2="401.0" stroke="#000" stroke-width="1.0" />
<line x1="472.5" y1="421.6" x2="493.3" y2="409.6" stroke="#000" stroke-width="1.0" />
<line x1="480.4" y1="432.0" x2="501.2" y2="420.0" stroke="#000" stroke-width="1.0" />
<line x1="486.7" y1="443.8" x2="507.4" y2="431.8" stroke="#000" stroke-width="1.0" />
<line x1="490.8" y1="456.0" x2="511.6" y2="444.0" stroke="#000" stroke-width="1.0" />
<line x1="492.6" y1="467.8" x2="513.3" y2="455.8" stroke="#000" stroke-width="1.0" />
<line x1="491.8" y1="478.5" x2="512.6" y2="466.5" stroke="#000" stroke-width="1.0" />
<line x1="488.6" y1="487.2" x2="509.4" y2="475.2" stroke="#000" stroke-width="1.0" />
<ellipse cx="454.10" cy="451.50" rx="47.00" ry="28.20" transform="rotate(60.0 454.10 451.50)" fill="#fff" stroke="#000" stroke-width="1.2" />
<ellipse cx="451.50" cy="453.00" rx="47.00" ry="28.20" transform="rotate(60.0 451.50 453.00)" fill="#fff" stroke="#000" stroke-width="1.5" />
<ellipse cx="451.50" cy="453.00" rx="44.80" ry="26.88" transform="rotate(60.0 451.50 453.00)" fill="none" stroke="#000" stroke-width="1.1" />
<ellipse cx="450.50" cy="454.00" rx="41.00" ry="24.60" transform="rotate(60.0 450.50 454.00)" fill="none" stroke="#000" stroke-width="1.2" />
<ellipse cx="450.00" cy="455.00" rx="38.50" ry="23.10" transform="rotate(60.0 450.00 455.00)" fill="none" stroke="#000" stroke-width="2.0" />
<ellipse cx="449.30" cy="456.30" rx="24.80" ry="14.88" transform="rotate(60.0 449.30 456.30)" fill="none" stroke="#000" stroke-width="1.5" />
<ellipse cx="453.00" cy="454.50" rx="18.00" ry="10.80" transform="rotate(60.0 453.00 454.50)" fill="none" stroke="#000" stroke-width="1.2" />
<line x1="467.2" y1="466.2" x2="466.0" y2="461.7" stroke="#000" stroke-width="1.2" />
<line x1="461.7" y1="477.8" x2="462.0" y2="470.1" stroke="#000" stroke-width="1.2" />
<line x1="449.0" y1="476.7" x2="452.8" y2="469.3" stroke="#000" stroke-width="1.2" />
<line x1="436.4" y1="463.7" x2="443.6" y2="459.9" stroke="#000" stroke-width="1.2" />
<line x1="431.4" y1="446.4" x2="440.0" y2="447.3" stroke="#000" stroke-width="1.2" />
<ellipse cx="523.00" cy="414.00" rx="22.90" ry="13.74" transform="rotate(60.0 523.00 414.00)" fill="none" stroke="#000" stroke-width="1.8" />
<ellipse cx="523.00" cy="414.00" rx="21.30" ry="12.78" transform="rotate(60.0 523.00 414.00)" fill="none" stroke="#000" stroke-width="1.0" />
<path d="M549.5,339.5 L550.5,339.0 L551.6,338.5 L552.7,338.1 L553.8,337.7 L554.9,337.4 L556.1,337.2 L557.4,337.1 L558.6,337.0 L559.9,337.0 L561.2,337.1 L562.5,337.2 L563.8,337.5 L565.2,337.7 L566.5,338.1 L567.9,338.5 L569.3,339.0 L570.7,339.5 L572.1,340.1 L573.4,340.8 L574.8,341.6 L576.2,342.4 L577.6,343.2 L579.0,344.2 L580.4,345.2 L581.8,346.2 L583.1,347.3 L584.5,348.5 L585.8,349.7 L587.1,350.9 L588.4,352.2 L589.7,353.6 L590.9,355.0 L592.2,356.4 L593.4,357.9 L594.5,359.4 L595.7,361.0 L596.8,362.6 L597.8,364.2 L598.8,365.8 L599.8,367.5 L600.8,369.2 L601.7,370.9 L602.6,372.6 L603.4,374.4 L604.2,376.1 L604.9,377.9 L605.6,379.6 L606.2,381.4 L606.8,383.2 L607.3,385.0 L607.8,386.8 L608.2,388.5 L608.6,390.3 L609.0,392.0 L609.2,393.7 L609.4,395.5 L609.6,397.1 L609.7,398.8 L609.8,400.5 L609.8,402.1 L609.7,403.7 L609.6,405.2 L609.5,406.7 L609.2,408.2 L609.0,409.6 L608.6,411.0 L608.3,412.4 L607.8,413.7 L607.3,414.9 L606.8,416.2 L606.2,417.3 L605.6,418.4 L604.9,419.5 L604.2,420.4 L603.4,421.4 L602.6,422.2 L601.7,423.0 L600.8,423.8 L599.9,424.5 L598.9,425.1" fill="none" stroke="#000" stroke-width="1.6" />
<path d="M550.1,339.4 L551.1,339.0 L552.2,338.7 L553.4,338.5 L554.5,338.3 L555.7,338.2 L556.9,338.1 L558.1,338.1 L559.4,338.2 L560.6,338.4 L561.9,338.6 L563.2,338.8 L564.5,339.2 L565.8,339.5 L567.1,340.0 L568.5,340.5 L569.8,341.1 L571.2,341.7 L572.5,342.4 L573.8,343.2 L575.2,344.0 L576.5,344.9 L577.9,345.8 L579.2,346.8 L580.5,347.8 L581.8,348.9 L583.1,350.0 L584.4,351.2 L585.6,352.4 L586.8,353.7 L588.1,355.0 L589.3,356.3 L590.4,357.7 L591.6,359.1 L592.7,360.6 L593.8,362.1 L594.8,363.6 L595.8,365.2 L596.8,366.7 L597.8,368.3 L598.7,370.0 L599.6,371.6 L600.4,373.3 L601.2,374.9 L602.0,376.6 L602.7,378.3 L603.4,380.0 L604.0,381.7 L604.6,383.4 L605.1,385.1 L605.6,386.8 L606.1,388.5 L606.5,390.2 L606.8,391.9 L607.1,393.6 L607.4,395.2 L607.6,396.9 L607.7,398.5 L607.8,400.1 L607.9,401.7 L607.9,403.2 L607.8,404.7 L607.7,406.2 L607.6,407.7 L607.4,409.1 L607.1,410.5 L606.8,411.8 L606.4,413.2 L606.0,414.4 L605.6,415.6 L605.1,416.8 L604.6,417.9 L604.0,419.0 L603.3,420.1 L602.7,421.0 L601.9,422.0 L601.2,422.8 L600.4,423.6 L599.5,424.4 L598.6,425.1 L597.7,425.7" fill="none" stroke="#000" stroke-width="1.0" />
<line x1="543.4" y1="343.0" x2="549.5" y2="339.5" stroke="#000" stroke-width="1.3" />
<line x1="592.8" y1="428.6" x2="598.9" y2="425.1" stroke="#000" stroke-width="1.3" />
<ellipse cx="570.27" cy="384.55" rx="49.40" ry="29.64" transform="rotate(60.0 570.27 384.55)" fill="#fff" stroke="#000" stroke-width="1.0" />
<ellipse cx="568.10" cy="385.80" rx="49.40" ry="29.64" transform="rotate(60.0 568.10 385.80)" fill="#fff" stroke="#000" stroke-width="1.7" />
<ellipse cx="568.10" cy="385.80" rx="46.60" ry="27.96" transform="rotate(60.0 568.10 385.80)" fill="none" stroke="#000" stroke-width="1.0" />
<ellipse cx="568.97" cy="385.30" rx="42.00" ry="25.20" transform="rotate(60.0 568.97 385.30)" fill="none" stroke="#000" stroke-width="1.2" />
<ellipse cx="568.97" cy="385.30" rx="39.80" ry="23.88" transform="rotate(60.0 568.97 385.30)" fill="none" stroke="#000" stroke-width="1.0" />
<ellipse cx="569.83" cy="384.80" rx="33.00" ry="19.80" transform="rotate(60.0 569.83 384.80)" fill="none" stroke="#000" stroke-width="1.2" />
<ellipse cx="569.83" cy="384.80" rx="30.60" ry="18.36" transform="rotate(60.0 569.83 384.80)" fill="none" stroke="#000" stroke-width="1.0" />
<ellipse cx="567.30" cy="387.20" rx="20.80" ry="12.48" transform="rotate(60.0 567.30 387.20)" fill="none" stroke="#000" stroke-width="2.6" />
<ellipse cx="569.30" cy="385.60" rx="17.40" ry="10.44" transform="rotate(60.0 569.30 385.60)" fill="none" stroke="#000" stroke-width="1.1" />
<defs><clipPath id="sph"><ellipse cx="637.30" cy="346.20" rx="29.30" ry="17.58" transform="rotate(60 637.30 346.20)"/></clipPath></defs>
<ellipse cx="637.30" cy="346.20" rx="37.60" ry="22.56" transform="rotate(60.0 637.30 346.20)" fill="#000" stroke="#000" stroke-width="1.2" />
<ellipse cx="623.50" cy="354.20" rx="37.60" ry="22.56" transform="rotate(60.0 623.50 354.20)" fill="#000" stroke="#000" stroke-width="1.2" />
<path d="M604.7,321.6 L618.5,313.6 L656.1,378.8 L642.3,386.8 Z" fill="#000" stroke="#000" stroke-width="1" stroke-linejoin="round" />
<g clip-path="url(#sph)"><ellipse cx="623.50" cy="354.20" rx="29.30" ry="17.58" transform="rotate(60 623.50 354.20)" fill="#fff"/></g>
<ellipse cx="623.1" cy="316.5" rx="4.2" ry="2.7" transform="rotate(60 623.1 316.5)" fill="#fff" stroke="#000" stroke-width="2.6"/>
<ellipse cx="630.7" cy="316.6" rx="4.2" ry="2.7" transform="rotate(60 630.7 316.6)" fill="#fff" stroke="#000" stroke-width="2.6"/>
<ellipse cx="639.1" cy="320.4" rx="4.2" ry="2.7" transform="rotate(60 639.1 320.4)" fill="#fff" stroke="#000" stroke-width="2.6"/>
<ellipse cx="647.1" cy="327.4" rx="4.2" ry="2.7" transform="rotate(60 647.1 327.4)" fill="#fff" stroke="#000" stroke-width="2.6"/>
<ellipse cx="653.8" cy="336.7" rx="4.2" ry="2.7" transform="rotate(60 653.8 336.7)" fill="#fff" stroke="#000" stroke-width="2.6"/>
<ellipse cx="658.5" cy="347.2" rx="4.2" ry="2.7" transform="rotate(60 658.5 347.2)" fill="#fff" stroke="#000" stroke-width="2.6"/>
<ellipse cx="660.5" cy="357.6" rx="4.2" ry="2.7" transform="rotate(60 660.5 357.6)" fill="#fff" stroke="#000" stroke-width="2.6"/>
<ellipse cx="659.6" cy="366.7" rx="4.2" ry="2.7" transform="rotate(60 659.6 366.7)" fill="#fff" stroke="#000" stroke-width="2.6"/>
<ellipse cx="656.0" cy="373.4" rx="4.2" ry="2.7" transform="rotate(60 656.0 373.4)" fill="#fff" stroke="#000" stroke-width="2.6"/>
<ellipse cx="649.9" cy="376.9" rx="4.2" ry="2.7" transform="rotate(60 649.9 376.9)" fill="#fff" stroke="#000" stroke-width="2.6"/>
<ellipse cx="642.3" cy="376.8" rx="4.2" ry="2.7" transform="rotate(60 642.3 376.8)" fill="#fff" stroke="#000" stroke-width="2.6"/>
<ellipse cx="633.9" cy="373.0" rx="4.2" ry="2.7" transform="rotate(60 633.9 373.0)" fill="#fff" stroke="#000" stroke-width="2.6"/>
<ellipse cx="625.9" cy="366.0" rx="4.2" ry="2.7" transform="rotate(60 625.9 366.0)" fill="#fff" stroke="#000" stroke-width="2.6"/>
<ellipse cx="619.1" cy="356.7" rx="4.2" ry="2.7" transform="rotate(60 619.1 356.7)" fill="#fff" stroke="#000" stroke-width="2.6"/>
<ellipse cx="614.5" cy="346.2" rx="4.2" ry="2.7" transform="rotate(60 614.5 346.2)" fill="#fff" stroke="#000" stroke-width="2.6"/>
<ellipse cx="612.5" cy="335.8" rx="4.2" ry="2.7" transform="rotate(60 612.5 335.8)" fill="#fff" stroke="#000" stroke-width="2.6"/>
<ellipse cx="613.4" cy="326.7" rx="4.2" ry="2.7" transform="rotate(60 613.4 326.7)" fill="#fff" stroke="#000" stroke-width="2.6"/>
<ellipse cx="617.0" cy="320.0" rx="4.2" ry="2.7" transform="rotate(60 617.0 320.0)" fill="#fff" stroke="#000" stroke-width="2.6"/>
<ellipse cx="620.0" cy="318.2" rx="4.2" ry="2.7" transform="rotate(60 620.0 318.2)" fill="#fff" stroke="#000" stroke-width="2.6"/>
<ellipse cx="627.7" cy="318.4" rx="4.2" ry="2.7" transform="rotate(60 627.7 318.4)" fill="#fff" stroke="#000" stroke-width="2.6"/>
<ellipse cx="636.0" cy="322.2" rx="4.2" ry="2.7" transform="rotate(60 636.0 322.2)" fill="#fff" stroke="#000" stroke-width="2.6"/>
<ellipse cx="644.1" cy="329.1" rx="4.2" ry="2.7" transform="rotate(60 644.1 329.1)" fill="#fff" stroke="#000" stroke-width="2.6"/>
<ellipse cx="650.8" cy="338.4" rx="4.2" ry="2.7" transform="rotate(60 650.8 338.4)" fill="#fff" stroke="#000" stroke-width="2.6"/>
<ellipse cx="655.5" cy="348.9" rx="4.2" ry="2.7" transform="rotate(60 655.5 348.9)" fill="#fff" stroke="#000" stroke-width="2.6"/>
<ellipse cx="657.5" cy="359.4" rx="4.2" ry="2.7" transform="rotate(60 657.5 359.4)" fill="#fff" stroke="#000" stroke-width="2.6"/>
<ellipse cx="656.6" cy="368.5" rx="4.2" ry="2.7" transform="rotate(60 656.6 368.5)" fill="#fff" stroke="#000" stroke-width="2.6"/>
<ellipse cx="652.9" cy="375.2" rx="4.2" ry="2.7" transform="rotate(60 652.9 375.2)" fill="#fff" stroke="#000" stroke-width="2.6"/>
<ellipse cx="646.9" cy="378.7" rx="4.2" ry="2.7" transform="rotate(60 646.9 378.7)" fill="#fff" stroke="#000" stroke-width="2.6"/>
<ellipse cx="639.2" cy="378.5" rx="4.2" ry="2.7" transform="rotate(60 639.2 378.5)" fill="#fff" stroke="#000" stroke-width="2.6"/>
<ellipse cx="630.9" cy="374.7" rx="4.2" ry="2.7" transform="rotate(60 630.9 374.7)" fill="#fff" stroke="#000" stroke-width="2.6"/>
<ellipse cx="622.9" cy="367.8" rx="4.2" ry="2.7" transform="rotate(60 622.9 367.8)" fill="#fff" stroke="#000" stroke-width="2.6"/>
<ellipse cx="616.1" cy="358.5" rx="4.2" ry="2.7" transform="rotate(60 616.1 358.5)" fill="#fff" stroke="#000" stroke-width="2.6"/>
<ellipse cx="611.4" cy="348.0" rx="4.2" ry="2.7" transform="rotate(60 611.4 348.0)" fill="#fff" stroke="#000" stroke-width="2.6"/>
<ellipse cx="609.4" cy="337.5" rx="4.2" ry="2.7" transform="rotate(60 609.4 337.5)" fill="#fff" stroke="#000" stroke-width="2.6"/>
<ellipse cx="610.3" cy="328.4" rx="4.2" ry="2.7" transform="rotate(60 610.3 328.4)" fill="#fff" stroke="#000" stroke-width="2.6"/>
<ellipse cx="614.0" cy="321.7" rx="4.2" ry="2.7" transform="rotate(60 614.0 321.7)" fill="#fff" stroke="#000" stroke-width="2.6"/>
<ellipse cx="617.0" cy="320.0" rx="4.2" ry="2.7" transform="rotate(60 617.0 320.0)" fill="#fff" stroke="#000" stroke-width="2.6"/>
<ellipse cx="624.6" cy="320.1" rx="4.2" ry="2.7" transform="rotate(60 624.6 320.1)" fill="#fff" stroke="#000" stroke-width="2.6"/>
<ellipse cx="633.0" cy="323.9" rx="4.2" ry="2.7" transform="rotate(60 633.0 323.9)" fill="#fff" stroke="#000" stroke-width="2.6"/>
<ellipse cx="641.0" cy="330.9" rx="4.2" ry="2.7" transform="rotate(60 641.0 330.9)" fill="#fff" stroke="#000" stroke-width="2.6"/>
<ellipse cx="647.8" cy="340.2" rx="4.2" ry="2.7" transform="rotate(60 647.8 340.2)" fill="#fff" stroke="#000" stroke-width="2.6"/>
<ellipse cx="652.4" cy="350.7" rx="4.2" ry="2.7" transform="rotate(60 652.4 350.7)" fill="#fff" stroke="#000" stroke-width="2.6"/>
<ellipse cx="654.5" cy="361.1" rx="4.2" ry="2.7" transform="rotate(60 654.5 361.1)" fill="#fff" stroke="#000" stroke-width="2.6"/>
<ellipse cx="653.6" cy="370.2" rx="4.2" ry="2.7" transform="rotate(60 653.6 370.2)" fill="#fff" stroke="#000" stroke-width="2.6"/>
<ellipse cx="649.9" cy="376.9" rx="4.2" ry="2.7" transform="rotate(60 649.9 376.9)" fill="#fff" stroke="#000" stroke-width="2.6"/>
<ellipse cx="643.9" cy="380.4" rx="4.2" ry="2.7" transform="rotate(60 643.9 380.4)" fill="#fff" stroke="#000" stroke-width="2.6"/>
<ellipse cx="636.2" cy="380.3" rx="4.2" ry="2.7" transform="rotate(60 636.2 380.3)" fill="#fff" stroke="#000" stroke-width="2.6"/>
<ellipse cx="627.9" cy="376.5" rx="4.2" ry="2.7" transform="rotate(60 627.9 376.5)" fill="#fff" stroke="#000" stroke-width="2.6"/>
<ellipse cx="619.8" cy="369.5" rx="4.2" ry="2.7" transform="rotate(60 619.8 369.5)" fill="#fff" stroke="#000" stroke-width="2.6"/>
<ellipse cx="613.1" cy="360.2" rx="4.2" ry="2.7" transform="rotate(60 613.1 360.2)" fill="#fff" stroke="#000" stroke-width="2.6"/>
<ellipse cx="608.4" cy="349.7" rx="4.2" ry="2.7" transform="rotate(60 608.4 349.7)" fill="#fff" stroke="#000" stroke-width="2.6"/>
<ellipse cx="606.4" cy="339.3" rx="4.2" ry="2.7" transform="rotate(60 606.4 339.3)" fill="#fff" stroke="#000" stroke-width="2.6"/>
<ellipse cx="607.3" cy="330.2" rx="4.2" ry="2.7" transform="rotate(60 607.3 330.2)" fill="#fff" stroke="#000" stroke-width="2.6"/>
<ellipse cx="611.0" cy="323.5" rx="4.2" ry="2.7" transform="rotate(60 611.0 323.5)" fill="#fff" stroke="#000" stroke-width="2.6"/>
<ellipse cx="614.0" cy="321.7" rx="4.2" ry="2.7" transform="rotate(60 614.0 321.7)" fill="#fff" stroke="#000" stroke-width="2.6"/>
<ellipse cx="621.6" cy="321.9" rx="4.2" ry="2.7" transform="rotate(60 621.6 321.9)" fill="#fff" stroke="#000" stroke-width="2.6"/>
<ellipse cx="630.0" cy="325.7" rx="4.2" ry="2.7" transform="rotate(60 630.0 325.7)" fill="#fff" stroke="#000" stroke-width="2.6"/>
<ellipse cx="638.0" cy="332.6" rx="4.2" ry="2.7" transform="rotate(60 638.0 332.6)" fill="#fff" stroke="#000" stroke-width="2.6"/>
<ellipse cx="644.8" cy="341.9" rx="4.2" ry="2.7" transform="rotate(60 644.8 341.9)" fill="#fff" stroke="#000" stroke-width="2.6"/>
<ellipse cx="649.4" cy="352.4" rx="4.2" ry="2.7" transform="rotate(60 649.4 352.4)" fill="#fff" stroke="#000" stroke-width="2.6"/>
<ellipse cx="651.4" cy="362.9" rx="4.2" ry="2.7" transform="rotate(60 651.4 362.9)" fill="#fff" stroke="#000" stroke-width="2.6"/>
<ellipse cx="650.5" cy="372.0" rx="4.2" ry="2.7" transform="rotate(60 650.5 372.0)" fill="#fff" stroke="#000" stroke-width="2.6"/>
<ellipse cx="646.9" cy="378.7" rx="4.2" ry="2.7" transform="rotate(60 646.9 378.7)" fill="#fff" stroke="#000" stroke-width="2.6"/>
<ellipse cx="640.8" cy="382.2" rx="4.2" ry="2.7" transform="rotate(60 640.8 382.2)" fill="#fff" stroke="#000" stroke-width="2.6"/>
<ellipse cx="633.2" cy="382.0" rx="4.2" ry="2.7" transform="rotate(60 633.2 382.0)" fill="#fff" stroke="#000" stroke-width="2.6"/>
<ellipse cx="624.8" cy="378.2" rx="4.2" ry="2.7" transform="rotate(60 624.8 378.2)" fill="#fff" stroke="#000" stroke-width="2.6"/>
<ellipse cx="616.8" cy="371.3" rx="4.2" ry="2.7" transform="rotate(60 616.8 371.3)" fill="#fff" stroke="#000" stroke-width="2.6"/>
<ellipse cx="610.0" cy="362.0" rx="4.2" ry="2.7" transform="rotate(60 610.0 362.0)" fill="#fff" stroke="#000" stroke-width="2.6"/>
<ellipse cx="605.4" cy="351.5" rx="4.2" ry="2.7" transform="rotate(60 605.4 351.5)" fill="#fff" stroke="#000" stroke-width="2.6"/>
<ellipse cx="603.4" cy="341.0" rx="4.2" ry="2.7" transform="rotate(60 603.4 341.0)" fill="#fff" stroke="#000" stroke-width="2.6"/>
<ellipse cx="604.3" cy="331.9" rx="4.2" ry="2.7" transform="rotate(60 604.3 331.9)" fill="#fff" stroke="#000" stroke-width="2.6"/>
<ellipse cx="607.9" cy="325.2" rx="4.2" ry="2.7" transform="rotate(60 607.9 325.2)" fill="#fff" stroke="#000" stroke-width="2.6"/>
<ellipse cx="610.9" cy="323.5" rx="4.2" ry="2.7" transform="rotate(60 610.9 323.5)" fill="#fff" stroke="#000" stroke-width="2.6"/>
<ellipse cx="618.6" cy="323.6" rx="4.2" ry="2.7" transform="rotate(60 618.6 323.6)" fill="#fff" stroke="#000" stroke-width="2.6"/>
<ellipse cx="626.9" cy="327.4" rx="4.2" ry="2.7" transform="rotate(60 626.9 327.4)" fill="#fff" stroke="#000" stroke-width="2.6"/>
<ellipse cx="635.0" cy="334.4" rx="4.2" ry="2.7" transform="rotate(60 635.0 334.4)" fill="#fff" stroke="#000" stroke-width="2.6"/>
<ellipse cx="641.7" cy="343.7" rx="4.2" ry="2.7" transform="rotate(60 641.7 343.7)" fill="#fff" stroke="#000" stroke-width="2.6"/>
<ellipse cx="646.4" cy="354.2" rx="4.2" ry="2.7" transform="rotate(60 646.4 354.2)" fill="#fff" stroke="#000" stroke-width="2.6"/>
<ellipse cx="648.4" cy="364.6" rx="4.2" ry="2.7" transform="rotate(60 648.4 364.6)" fill="#fff" stroke="#000" stroke-width="2.6"/>
<ellipse cx="647.5" cy="373.7" rx="4.2" ry="2.7" transform="rotate(60 647.5 373.7)" fill="#fff" stroke="#000" stroke-width="2.6"/>
<ellipse cx="643.8" cy="380.4" rx="4.2" ry="2.7" transform="rotate(60 643.8 380.4)" fill="#fff" stroke="#000" stroke-width="2.6"/>
<ellipse cx="637.8" cy="383.9" rx="4.2" ry="2.7" transform="rotate(60 637.8 383.9)" fill="#fff" stroke="#000" stroke-width="2.6"/>
<ellipse cx="630.2" cy="383.8" rx="4.2" ry="2.7" transform="rotate(60 630.2 383.8)" fill="#fff" stroke="#000" stroke-width="2.6"/>
<ellipse cx="621.8" cy="380.0" rx="4.2" ry="2.7" transform="rotate(60 621.8 380.0)" fill="#fff" stroke="#000" stroke-width="2.6"/>
<ellipse cx="613.8" cy="373.0" rx="4.2" ry="2.7" transform="rotate(60 613.8 373.0)" fill="#fff" stroke="#000" stroke-width="2.6"/>
<ellipse cx="607.0" cy="363.7" rx="4.2" ry="2.7" transform="rotate(60 607.0 363.7)" fill="#fff" stroke="#000" stroke-width="2.6"/>
<ellipse cx="602.3" cy="353.2" rx="4.2" ry="2.7" transform="rotate(60 602.3 353.2)" fill="#fff" stroke="#000" stroke-width="2.6"/>
<ellipse cx="600.3" cy="342.8" rx="4.2" ry="2.7" transform="rotate(60 600.3 342.8)" fill="#fff" stroke="#000" stroke-width="2.6"/>
<ellipse cx="601.2" cy="333.7" rx="4.2" ry="2.7" transform="rotate(60 601.2 333.7)" fill="#fff" stroke="#000" stroke-width="2.6"/>
<ellipse cx="604.9" cy="327.0" rx="4.2" ry="2.7" transform="rotate(60 604.9 327.0)" fill="#fff" stroke="#000" stroke-width="2.6"/>
<ellipse cx="682.40" cy="325.30" rx="44.60" ry="26.76" transform="rotate(60.0 682.40 325.30)" fill="#fff" stroke="#000" stroke-width="2.3" />
<ellipse cx="682.60" cy="325.20" rx="43.00" ry="25.80" transform="rotate(60.0 682.60 325.20)" fill="none" stroke="#000" stroke-width="1.0" stroke-dasharray="1.5,1.5"/>
<ellipse cx="682.80" cy="325.10" rx="41.50" ry="24.90" transform="rotate(60.0 682.80 325.10)" fill="none" stroke="#000" stroke-width="2.0" />
<ellipse cx="681.70" cy="325.50" rx="30.00" ry="18.00" transform="rotate(60.0 681.70 325.50)" fill="none" stroke="#000" stroke-width="1.1" />
<ellipse cx="682.90" cy="325.20" rx="27.10" ry="16.26" transform="rotate(60.0 682.90 325.20)" fill="none" stroke="#000" stroke-width="1.1" />
<ellipse cx="684.40" cy="323.20" rx="22.30" ry="13.38" transform="rotate(60.0 684.40 323.20)" fill="none" stroke="#000" stroke-width="1.1" />
<ellipse cx="688.00" cy="321.80" rx="16.70" ry="10.02" transform="rotate(60.0 688.00 321.80)" fill="none" stroke="#000" stroke-width="3.5" />
<path d="M722.2,293.1 L722.7,293.5 L723.2,294.0 L723.7,294.5 L724.2,295.1 L724.7,295.6 L725.2,296.2 L725.6,296.8 L726.1,297.4 L726.5,298.0 L726.9,298.6 L727.3,299.3 L727.6,299.9 L728.0,300.6 L728.3,301.3 L728.6,302.0 L728.8,302.7 L729.1,303.3 L729.3,304.0 L729.5,304.7 L729.7,305.4 L729.9,306.1 L730.0,306.8 L730.1,307.4 L730.2,308.1 L730.2,308.7 L730.2,309.4 L730.2,310.0 L730.2,310.6 L730.1,311.2 L730.1,311.8 L729.9,312.3 L729.8,312.9 L729.6,313.4 L729.5,313.9 L729.2,314.3 L729.0,314.8 L728.7,315.2 L728.5,315.5 L728.2,315.9 L727.8,316.2 L727.5,316.5 L727.1,316.8 L726.7,317.0 L726.3,317.2 L725.9,317.4 L725.5,317.5 L725.0,317.6 L724.5,317.7 L724.1,317.7 L723.6,317.7 L723.1,317.7 L722.6,317.6 L722.0,317.5 L721.5,317.4 L721.0,317.2 L720.4,317.0 L719.9,316.8 L719.4,316.5 L718.8,316.2 L718.3,315.9 L717.7,315.5 L717.2,315.2 L716.7,314.7 L716.1,314.3 L715.6,313.8 L715.1,313.4 L714.6,312.8 L714.1,312.3 L713.7,311.8 L713.2,311.2 L712.8,310.6 L712.3,310.0 L711.9,309.4 L711.5,308.7 L711.1,308.1 L710.8,307.4 L710.4,306.7 L710.1,306.1 L709.8,305.4 L709.5,304.7 L709.3,304.0 L709.1,303.3 L708.9,302.6 L708.7,302.0 L708.5,301.3 L708.4,300.6 L708.3,299.9 L708.2,299.3 L708.2,298.6 L708.2,298.0 L708.2,297.4 L708.2,296.8 L708.3,296.2 L708.4,295.6 L708.5,295.0 L708.6,294.5 L708.8,294.0 L709.0,293.5 L709.2,293.1 L709.4,292.6 L709.7,292.2 L710.0,291.8 L710.3,291.5 L710.6,291.2 L710.9,290.9 L711.3,290.6 L711.7,290.4 L712.1,290.2 L712.5,290.0 L713.0,289.9 L713.4,289.8 L713.9,289.7 L714.4,289.7 L714.9,289.7 L715.4,289.7 L715.9,289.8 L716.4,289.9 L716.9,290.0 L717.5,290.2 L718.0,290.4" fill="none" stroke="#000" stroke-width="3.4" stroke-linecap="round"/>
</svg></body></html>
